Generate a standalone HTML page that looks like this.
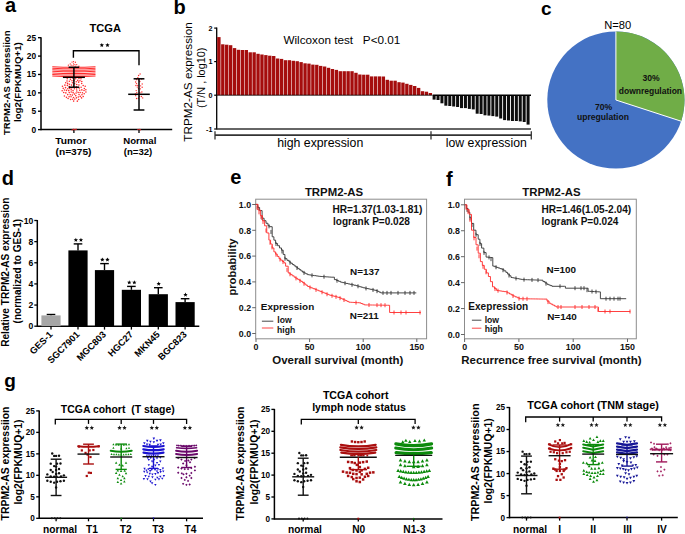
<!DOCTYPE html>
<html><head><meta charset="utf-8"><style>
html,body{margin:0;padding:0;background:#fff;}
body{width:685px;height:534px;overflow:hidden;}
svg{display:block;font-family:"Liberation Sans", sans-serif;}
</style></head><body>
<svg width="685" height="534" viewBox="0 0 685 534">
<rect width="685" height="534" fill="#fff"/>
<text x="5" y="12.4" font-size="20" font-weight="bold" text-anchor="start" fill="#000">a</text>
<text x="173.6" y="14.4" font-size="20" font-weight="bold" text-anchor="start" fill="#000">b</text>
<text x="541" y="15.3" font-size="19" font-weight="bold" text-anchor="start" fill="#000">c</text>
<text x="1.8" y="185" font-size="20" font-weight="bold" text-anchor="start" fill="#000">d</text>
<text x="230.3" y="183.6" font-size="20" font-weight="bold" text-anchor="start" fill="#000">e</text>
<text x="446" y="186.4" font-size="20" font-weight="bold" text-anchor="start" fill="#000">f</text>
<text x="4.2" y="386.8" font-size="19" font-weight="bold" text-anchor="start" fill="#000">g</text>
<line x1="41" y1="37.2" x2="41" y2="130.35" stroke="#000" stroke-width="1.5"/>
<line x1="38" y1="129.6" x2="41" y2="129.6" stroke="#000" stroke-width="1.35"/>
<text x="36.1" y="132.62" font-size="8.4" font-weight="bold" text-anchor="end" fill="#000">0</text>
<line x1="38" y1="111.22" x2="41" y2="111.22" stroke="#000" stroke-width="1.35"/>
<text x="36.1" y="114.24" font-size="8.4" font-weight="bold" text-anchor="end" fill="#000">5</text>
<line x1="38" y1="92.84" x2="41" y2="92.84" stroke="#000" stroke-width="1.35"/>
<text x="36.1" y="95.86" font-size="8.4" font-weight="bold" text-anchor="end" fill="#000">10</text>
<line x1="38" y1="74.46" x2="41" y2="74.46" stroke="#000" stroke-width="1.35"/>
<text x="36.1" y="77.48" font-size="8.4" font-weight="bold" text-anchor="end" fill="#000">15</text>
<line x1="38" y1="56.08" x2="41" y2="56.08" stroke="#000" stroke-width="1.35"/>
<text x="36.1" y="59.1" font-size="8.4" font-weight="bold" text-anchor="end" fill="#000">20</text>
<line x1="38" y1="37.7" x2="41" y2="37.7" stroke="#000" stroke-width="1.35"/>
<text x="36.1" y="40.72" font-size="8.4" font-weight="bold" text-anchor="end" fill="#000">25</text>
<line x1="41" y1="129.6" x2="172.2" y2="129.6" stroke="#000" stroke-width="1.5"/>
<line x1="73.9" y1="129.6" x2="73.9" y2="133" stroke="#000" stroke-width="1.3"/>
<line x1="139" y1="129.6" x2="139" y2="133" stroke="#000" stroke-width="1.3"/>
<text x="105.3" y="32.4" font-size="11.1" font-weight="bold" text-anchor="middle" fill="#000">TCGA</text>
<circle cx="75.4" cy="62.23" r="0.65" fill="#ff2a2a"/>
<circle cx="71.18" cy="65.19" r="0.65" fill="#ff2a2a"/>
<circle cx="73.5" cy="63.93" r="0.65" fill="#ff2a2a"/>
<circle cx="76.71" cy="64.66" r="0.65" fill="#ff2a2a"/>
<circle cx="72.05" cy="62.04" r="0.65" fill="#ff2a2a"/>
<circle cx="73.09" cy="65.53" r="0.65" fill="#ff2a2a"/>
<circle cx="68.38" cy="65.18" r="0.65" fill="#ff2a2a"/>
<circle cx="78.91" cy="66.26" r="0.65" fill="#ff2a2a"/>
<circle cx="70.23" cy="63.9" r="0.65" fill="#ff2a2a"/>
<circle cx="75.19" cy="66.22" r="0.65" fill="#ff2a2a"/>
<circle cx="73.53" cy="61.71" r="0.65" fill="#ff2a2a"/>
<circle cx="74.9" cy="64.55" r="0.65" fill="#ff2a2a"/>
<path d="M52.3 66.7Q73.9 67.7 95.5 66.7" fill="none" stroke="#ff2a2a" stroke-width="1.05"/>
<path d="M52.3 68.25Q73.9 69.25 95.5 68.25" fill="none" stroke="#ff2a2a" stroke-width="1.05"/>
<path d="M52.3 69.8Q73.9 70.8 95.5 69.8" fill="none" stroke="#ff2a2a" stroke-width="1.05"/>
<path d="M52.3 71.35Q73.9 72.35 95.5 71.35" fill="none" stroke="#ff2a2a" stroke-width="1.05"/>
<path d="M52.3 72.9Q73.9 73.9 95.5 72.9" fill="none" stroke="#ff2a2a" stroke-width="1.05"/>
<path d="M52.3 74.45Q73.9 75.45 95.5 74.45" fill="none" stroke="#ff2a2a" stroke-width="1.05"/>
<path d="M52.3 76Q73.9 77 95.5 76" fill="none" stroke="#ff2a2a" stroke-width="1.05"/>
<circle cx="74.64" cy="83.67" r="0.78" fill="#ff2a2a"/>
<circle cx="76.39" cy="86.71" r="0.78" fill="#ff2a2a"/>
<circle cx="63.73" cy="92.59" r="0.78" fill="#ff2a2a"/>
<circle cx="78.99" cy="78.5" r="0.78" fill="#ff2a2a"/>
<circle cx="69.41" cy="84.17" r="0.78" fill="#ff2a2a"/>
<circle cx="73.66" cy="101.1" r="0.78" fill="#ff2a2a"/>
<circle cx="73.51" cy="97.44" r="0.78" fill="#ff2a2a"/>
<circle cx="65.83" cy="92.9" r="0.78" fill="#ff2a2a"/>
<circle cx="82.44" cy="92.8" r="0.78" fill="#ff2a2a"/>
<circle cx="79.69" cy="90.23" r="0.78" fill="#ff2a2a"/>
<circle cx="75.75" cy="95.64" r="0.78" fill="#ff2a2a"/>
<circle cx="64.89" cy="85.13" r="0.78" fill="#ff2a2a"/>
<circle cx="81.96" cy="94.73" r="0.78" fill="#ff2a2a"/>
<circle cx="81.12" cy="87.28" r="0.78" fill="#ff2a2a"/>
<circle cx="84.35" cy="88.43" r="0.78" fill="#ff2a2a"/>
<circle cx="68.09" cy="98.41" r="0.78" fill="#ff2a2a"/>
<circle cx="69.37" cy="81.33" r="0.78" fill="#ff2a2a"/>
<circle cx="69.25" cy="92.61" r="0.78" fill="#ff2a2a"/>
<circle cx="71.16" cy="89.87" r="0.78" fill="#ff2a2a"/>
<circle cx="81.57" cy="97.9" r="0.78" fill="#ff2a2a"/>
<circle cx="74.8" cy="99.01" r="0.78" fill="#ff2a2a"/>
<circle cx="67.72" cy="94.62" r="0.78" fill="#ff2a2a"/>
<circle cx="65.52" cy="87.64" r="0.78" fill="#ff2a2a"/>
<circle cx="78.9" cy="84.96" r="0.78" fill="#ff2a2a"/>
<circle cx="70.3" cy="94.72" r="0.78" fill="#ff2a2a"/>
<circle cx="85.86" cy="89.82" r="0.78" fill="#ff2a2a"/>
<circle cx="72.39" cy="82.74" r="0.78" fill="#ff2a2a"/>
<circle cx="83.17" cy="85.42" r="0.78" fill="#ff2a2a"/>
<circle cx="74.38" cy="88.79" r="0.78" fill="#ff2a2a"/>
<circle cx="76.1" cy="93.01" r="0.78" fill="#ff2a2a"/>
<circle cx="76.78" cy="91.06" r="0.78" fill="#ff2a2a"/>
<circle cx="79.19" cy="88.12" r="0.78" fill="#ff2a2a"/>
<circle cx="62.17" cy="90.81" r="0.78" fill="#ff2a2a"/>
<circle cx="75.65" cy="78.66" r="0.78" fill="#ff2a2a"/>
<circle cx="73.11" cy="92.63" r="0.78" fill="#ff2a2a"/>
<circle cx="79.03" cy="94.46" r="0.78" fill="#ff2a2a"/>
<circle cx="67.24" cy="78.71" r="0.78" fill="#ff2a2a"/>
<circle cx="84.21" cy="93.75" r="0.78" fill="#ff2a2a"/>
<circle cx="69.4" cy="86.57" r="0.78" fill="#ff2a2a"/>
<circle cx="71.55" cy="85.11" r="0.78" fill="#ff2a2a"/>
<circle cx="64.42" cy="95.96" r="0.78" fill="#ff2a2a"/>
<circle cx="69.09" cy="96.69" r="0.78" fill="#ff2a2a"/>
<circle cx="67.59" cy="83.38" r="0.78" fill="#ff2a2a"/>
<circle cx="66.48" cy="90.38" r="0.78" fill="#ff2a2a"/>
<circle cx="71.07" cy="96.74" r="0.78" fill="#ff2a2a"/>
<circle cx="71.73" cy="87.85" r="0.78" fill="#ff2a2a"/>
<circle cx="70.61" cy="99.53" r="0.78" fill="#ff2a2a"/>
<circle cx="78.68" cy="99.45" r="0.78" fill="#ff2a2a"/>
<circle cx="78.64" cy="82.14" r="0.78" fill="#ff2a2a"/>
<circle cx="70.39" cy="79.35" r="0.78" fill="#ff2a2a"/>
<circle cx="67.03" cy="81.07" r="0.78" fill="#ff2a2a"/>
<circle cx="73.93" cy="80.18" r="0.78" fill="#ff2a2a"/>
<circle cx="67.78" cy="88.8" r="0.78" fill="#ff2a2a"/>
<circle cx="81.78" cy="81.5" r="0.78" fill="#ff2a2a"/>
<circle cx="76.72" cy="84.52" r="0.78" fill="#ff2a2a"/>
<circle cx="67.39" cy="85.39" r="0.78" fill="#ff2a2a"/>
<circle cx="78.32" cy="96.96" r="0.78" fill="#ff2a2a"/>
<circle cx="80.97" cy="78.81" r="0.78" fill="#ff2a2a"/>
<circle cx="76.23" cy="81.71" r="0.78" fill="#ff2a2a"/>
<circle cx="81.69" cy="83.49" r="0.78" fill="#ff2a2a"/>
<circle cx="73.04" cy="90.6" r="0.78" fill="#ff2a2a"/>
<circle cx="73.55" cy="86.16" r="0.78" fill="#ff2a2a"/>
<circle cx="72.29" cy="95.11" r="0.78" fill="#ff2a2a"/>
<circle cx="77.32" cy="101.14" r="0.78" fill="#ff2a2a"/>
<circle cx="81.84" cy="89.9" r="0.78" fill="#ff2a2a"/>
<circle cx="83.21" cy="96.46" r="0.78" fill="#ff2a2a"/>
<circle cx="84.01" cy="90.59" r="0.78" fill="#ff2a2a"/>
<circle cx="62.46" cy="86.28" r="0.78" fill="#ff2a2a"/>
<circle cx="68.73" cy="90.6" r="0.78" fill="#ff2a2a"/>
<circle cx="72.61" cy="99.21" r="0.78" fill="#ff2a2a"/>
<circle cx="66.43" cy="97.36" r="0.78" fill="#ff2a2a"/>
<circle cx="63.24" cy="88.37" r="0.78" fill="#ff2a2a"/>
<circle cx="85.2" cy="86.16" r="0.78" fill="#ff2a2a"/>
<circle cx="80.17" cy="92.46" r="0.78" fill="#ff2a2a"/>
<circle cx="72.99" cy="78.23" r="0.78" fill="#ff2a2a"/>
<circle cx="77.73" cy="80.39" r="0.78" fill="#ff2a2a"/>
<circle cx="79.96" cy="80.7" r="0.78" fill="#ff2a2a"/>
<circle cx="76.62" cy="89.05" r="0.78" fill="#ff2a2a"/>
<circle cx="85.9" cy="91.96" r="0.78" fill="#ff2a2a"/>
<circle cx="71.97" cy="80.75" r="0.78" fill="#ff2a2a"/>
<circle cx="71.24" cy="92.06" r="0.78" fill="#ff2a2a"/>
<circle cx="69.71" cy="88.52" r="0.78" fill="#ff2a2a"/>
<circle cx="74.39" cy="94.11" r="0.78" fill="#ff2a2a"/>
<circle cx="76.43" cy="97.85" r="0.78" fill="#ff2a2a"/>
<circle cx="80.24" cy="96.38" r="0.78" fill="#ff2a2a"/>
<circle cx="64.45" cy="89.93" r="0.78" fill="#ff2a2a"/>
<circle cx="65.7" cy="82.75" r="0.78" fill="#ff2a2a"/>
<circle cx="78.18" cy="92.53" r="0.78" fill="#ff2a2a"/>
<circle cx="136.49" cy="79.65" r="0.7" fill="#ff2a2a"/>
<circle cx="136.54" cy="83.62" r="0.7" fill="#ff2a2a"/>
<circle cx="138.59" cy="75.45" r="0.7" fill="#ff2a2a"/>
<circle cx="141.4" cy="96.57" r="0.7" fill="#ff2a2a"/>
<circle cx="136.78" cy="92.78" r="0.7" fill="#ff2a2a"/>
<circle cx="137.25" cy="87.11" r="0.7" fill="#ff2a2a"/>
<circle cx="141.66" cy="79.12" r="0.7" fill="#ff2a2a"/>
<circle cx="141.45" cy="94.36" r="0.7" fill="#ff2a2a"/>
<circle cx="139.85" cy="81.48" r="0.7" fill="#ff2a2a"/>
<circle cx="141.84" cy="91.95" r="0.7" fill="#ff2a2a"/>
<circle cx="135.69" cy="95.63" r="0.7" fill="#ff2a2a"/>
<circle cx="140.37" cy="88.83" r="0.7" fill="#ff2a2a"/>
<circle cx="135.92" cy="85.54" r="0.7" fill="#ff2a2a"/>
<circle cx="139.58" cy="96.34" r="0.7" fill="#ff2a2a"/>
<circle cx="138.45" cy="88.65" r="0.7" fill="#ff2a2a"/>
<circle cx="137.86" cy="77.8" r="0.7" fill="#ff2a2a"/>
<circle cx="135.35" cy="93.95" r="0.7" fill="#ff2a2a"/>
<circle cx="137.82" cy="85.49" r="0.7" fill="#ff2a2a"/>
<circle cx="136.56" cy="98.53" r="0.7" fill="#ff2a2a"/>
<circle cx="139.92" cy="92.78" r="0.7" fill="#ff2a2a"/>
<circle cx="142.19" cy="83.98" r="0.7" fill="#ff2a2a"/>
<circle cx="135.66" cy="82.02" r="0.7" fill="#ff2a2a"/>
<circle cx="138.39" cy="98.15" r="0.7" fill="#ff2a2a"/>
<circle cx="136.2" cy="90.59" r="0.7" fill="#ff2a2a"/>
<circle cx="138.43" cy="79.8" r="0.7" fill="#ff2a2a"/>
<circle cx="138.99" cy="94.41" r="0.7" fill="#ff2a2a"/>
<circle cx="142.69" cy="97.88" r="0.7" fill="#ff2a2a"/>
<circle cx="140.08" cy="74.06" r="0.7" fill="#ff2a2a"/>
<circle cx="142.17" cy="87.24" r="0.7" fill="#ff2a2a"/>
<circle cx="140.63" cy="85.87" r="0.7" fill="#ff2a2a"/>
<circle cx="74.96" cy="129.7" r="0.7" fill="#ff2a2a"/>
<circle cx="73.75" cy="129.22" r="0.7" fill="#ff2a2a"/>
<circle cx="72.2" cy="129.92" r="0.7" fill="#ff2a2a"/>
<circle cx="76.09" cy="129.29" r="0.7" fill="#ff2a2a"/>
<circle cx="140.42" cy="129.83" r="0.7" fill="#ff2a2a"/>
<circle cx="137.95" cy="129.59" r="0.7" fill="#ff2a2a"/>
<circle cx="139.24" cy="129.35" r="0.7" fill="#ff2a2a"/>
<line x1="73.9" y1="67.3" x2="73.9" y2="87.2" stroke="#000" stroke-width="1.5"/>
<line x1="68.6" y1="67.3" x2="79.2" y2="67.3" stroke="#000" stroke-width="1.5"/>
<line x1="68.6" y1="87.2" x2="79.2" y2="87.2" stroke="#000" stroke-width="1.5"/>
<line x1="62.9" y1="77.3" x2="84.9" y2="77.3" stroke="#000" stroke-width="1.5"/>
<line x1="139" y1="78.8" x2="139" y2="110" stroke="#000" stroke-width="1.5"/>
<line x1="133.6" y1="78.8" x2="144.4" y2="78.8" stroke="#000" stroke-width="1.5"/>
<line x1="133.6" y1="110" x2="144.4" y2="110" stroke="#000" stroke-width="1.5"/>
<line x1="128.2" y1="94.3" x2="149.8" y2="94.3" stroke="#000" stroke-width="1.5"/>
<path d="M73.4 57.8V50.8H139V65.3" fill="none" stroke="#000" stroke-width="1.4"/>
<polygon points="101.8,42.9 102.41,44.36 103.99,44.49 102.78,45.52 103.15,47.06 101.8,46.23 100.45,47.06 100.82,45.52 99.61,44.49 101.19,44.36" fill="#000"/>
<polygon points="107.5,42.9 108.11,44.36 109.69,44.49 108.48,45.52 108.85,47.06 107.5,46.23 106.15,47.06 106.52,45.52 105.31,44.49 106.89,44.36" fill="#000"/>
<text x="70.8" y="143.8" font-size="9.4" font-weight="bold" text-anchor="middle" fill="#000" textLength="31.2" lengthAdjust="spacingAndGlyphs">Tumor</text>
<text x="73.5" y="154.6" font-size="9" font-weight="bold" text-anchor="middle" fill="#000" textLength="36" lengthAdjust="spacingAndGlyphs">(n=375)</text>
<text x="139.8" y="144.1" font-size="9.6" font-weight="bold" text-anchor="middle" fill="#000">Normal</text>
<text x="138" y="154.9" font-size="9.6" font-weight="bold" text-anchor="middle" fill="#000">(n=32)</text>
<text x="10.4" y="82.8" font-size="9.55" font-weight="bold" text-anchor="middle" fill="#000" transform="rotate(-90 10.4 82.8)">TRPM2-AS expressiion</text>
<text x="21.5" y="82.1" font-size="9.76" font-weight="bold" text-anchor="middle" fill="#000" transform="rotate(-90 21.5 82.1)">log2(FPKMUQ+1)</text>
<line x1="216.7" y1="27.5" x2="216.7" y2="129.5" stroke="#000" stroke-width="1.3"/>
<line x1="214.2" y1="28.1" x2="216.7" y2="28.1" stroke="#000" stroke-width="1.2"/>
<text x="212.4" y="30.7" font-size="7.2" font-weight="bold" text-anchor="end" fill="#000">2</text>
<line x1="214.2" y1="61.6" x2="216.7" y2="61.6" stroke="#000" stroke-width="1.2"/>
<text x="212.4" y="64.2" font-size="7.2" font-weight="bold" text-anchor="end" fill="#000">1</text>
<line x1="214.2" y1="95.2" x2="216.7" y2="95.2" stroke="#000" stroke-width="1.2"/>
<text x="212.4" y="97.8" font-size="7.2" font-weight="bold" text-anchor="end" fill="#000">0</text>
<line x1="214.2" y1="129" x2="216.7" y2="129" stroke="#000" stroke-width="1.2"/>
<text x="212.4" y="131.6" font-size="7.2" font-weight="bold" text-anchor="end" fill="#000">-1</text>
<rect x="217.2" y="37.1" width="3.37" height="58.1" fill="#a50d0d"/>
<rect x="221.12" y="44.3" width="3.37" height="50.9" fill="#a50d0d"/>
<rect x="225.03" y="44.7" width="3.37" height="50.5" fill="#a50d0d"/>
<rect x="228.95" y="45.2" width="3.37" height="50" fill="#a50d0d"/>
<rect x="232.86" y="48.1" width="3.37" height="47.1" fill="#a50d0d"/>
<rect x="236.78" y="49.8" width="3.37" height="45.4" fill="#a50d0d"/>
<rect x="240.7" y="50" width="3.37" height="45.2" fill="#a50d0d"/>
<rect x="244.61" y="50" width="3.37" height="45.2" fill="#a50d0d"/>
<rect x="248.53" y="52.3" width="3.37" height="42.9" fill="#a50d0d"/>
<rect x="252.45" y="52.3" width="3.37" height="42.9" fill="#a50d0d"/>
<rect x="256.36" y="53.8" width="3.37" height="41.4" fill="#a50d0d"/>
<rect x="260.28" y="54.5" width="3.37" height="40.7" fill="#a50d0d"/>
<rect x="264.19" y="55.1" width="3.37" height="40.1" fill="#a50d0d"/>
<rect x="268.11" y="55.7" width="3.37" height="39.5" fill="#a50d0d"/>
<rect x="272.03" y="56" width="3.37" height="39.2" fill="#a50d0d"/>
<rect x="275.94" y="58.5" width="3.37" height="36.7" fill="#a50d0d"/>
<rect x="279.86" y="58.9" width="3.37" height="36.3" fill="#a50d0d"/>
<rect x="283.78" y="60.2" width="3.37" height="35" fill="#a50d0d"/>
<rect x="287.69" y="60.2" width="3.37" height="35" fill="#a50d0d"/>
<rect x="291.61" y="60.8" width="3.37" height="34.4" fill="#a50d0d"/>
<rect x="295.52" y="61.2" width="3.37" height="34" fill="#a50d0d"/>
<rect x="299.44" y="62.1" width="3.37" height="33.1" fill="#a50d0d"/>
<rect x="303.36" y="63.3" width="3.37" height="31.9" fill="#a50d0d"/>
<rect x="307.27" y="63.6" width="3.37" height="31.6" fill="#a50d0d"/>
<rect x="311.19" y="64.6" width="3.37" height="30.6" fill="#a50d0d"/>
<rect x="315.11" y="64.8" width="3.37" height="30.4" fill="#a50d0d"/>
<rect x="319.02" y="65.9" width="3.37" height="29.3" fill="#a50d0d"/>
<rect x="322.94" y="66.5" width="3.37" height="28.7" fill="#a50d0d"/>
<rect x="326.86" y="67.8" width="3.37" height="27.4" fill="#a50d0d"/>
<rect x="330.77" y="69" width="3.37" height="26.2" fill="#a50d0d"/>
<rect x="334.69" y="69.9" width="3.37" height="25.3" fill="#a50d0d"/>
<rect x="338.6" y="71.2" width="3.37" height="24" fill="#a50d0d"/>
<rect x="342.52" y="71.2" width="3.37" height="24" fill="#a50d0d"/>
<rect x="346.44" y="71.2" width="3.37" height="24" fill="#a50d0d"/>
<rect x="350.35" y="71.2" width="3.37" height="24" fill="#a50d0d"/>
<rect x="354.27" y="72.8" width="3.37" height="22.4" fill="#a50d0d"/>
<rect x="358.19" y="74.5" width="3.37" height="20.7" fill="#a50d0d"/>
<rect x="362.1" y="74.7" width="3.37" height="20.5" fill="#a50d0d"/>
<rect x="366.02" y="74.7" width="3.37" height="20.5" fill="#a50d0d"/>
<rect x="369.93" y="76.4" width="3.37" height="18.8" fill="#a50d0d"/>
<rect x="373.85" y="76.4" width="3.37" height="18.8" fill="#a50d0d"/>
<rect x="377.77" y="76.4" width="3.37" height="18.8" fill="#a50d0d"/>
<rect x="381.68" y="76.5" width="3.37" height="18.7" fill="#a50d0d"/>
<rect x="385.6" y="79.8" width="3.37" height="15.4" fill="#a50d0d"/>
<rect x="389.51" y="80.7" width="3.37" height="14.5" fill="#a50d0d"/>
<rect x="393.43" y="80.7" width="3.37" height="14.5" fill="#a50d0d"/>
<rect x="397.35" y="82.2" width="3.37" height="13" fill="#a50d0d"/>
<rect x="401.26" y="82.6" width="3.37" height="12.6" fill="#a50d0d"/>
<rect x="405.18" y="83.8" width="3.37" height="11.4" fill="#a50d0d"/>
<rect x="409.1" y="84.9" width="3.37" height="10.3" fill="#a50d0d"/>
<rect x="413.01" y="86" width="3.37" height="9.2" fill="#a50d0d"/>
<rect x="416.93" y="87.9" width="3.37" height="7.3" fill="#a50d0d"/>
<rect x="420.85" y="91.2" width="3.37" height="4" fill="#a50d0d"/>
<rect x="424.76" y="91.7" width="3.37" height="3.5" fill="#a50d0d"/>
<rect x="428.68" y="93" width="3.37" height="2.2" fill="#a50d0d"/>
<rect x="432.59" y="95.2" width="3.02" height="4.4" fill="#0d0d0d"/>
<rect x="436.51" y="95.2" width="3.02" height="4.8" fill="#0d0d0d"/>
<rect x="440.43" y="95.2" width="3.02" height="8.1" fill="#0d0d0d"/>
<rect x="444.34" y="95.2" width="3.02" height="10.5" fill="#0d0d0d"/>
<rect x="448.26" y="95.2" width="3.02" height="10.8" fill="#0d0d0d"/>
<rect x="452.18" y="95.2" width="3.02" height="11.3" fill="#0d0d0d"/>
<rect x="456.09" y="95.2" width="3.02" height="11.8" fill="#0d0d0d"/>
<rect x="460.01" y="95.2" width="3.02" height="12.9" fill="#0d0d0d"/>
<rect x="463.92" y="95.2" width="3.02" height="12.9" fill="#0d0d0d"/>
<rect x="467.84" y="95.2" width="3.02" height="13.7" fill="#0d0d0d"/>
<rect x="471.76" y="95.2" width="3.02" height="14.2" fill="#0d0d0d"/>
<rect x="475.67" y="95.2" width="3.02" height="18.5" fill="#0d0d0d"/>
<rect x="479.59" y="95.2" width="3.02" height="18.8" fill="#0d0d0d"/>
<rect x="483.5" y="95.2" width="3.02" height="20.1" fill="#0d0d0d"/>
<rect x="487.42" y="95.2" width="3.02" height="20.4" fill="#0d0d0d"/>
<rect x="491.34" y="95.2" width="3.02" height="20.9" fill="#0d0d0d"/>
<rect x="495.25" y="95.2" width="3.02" height="21.4" fill="#0d0d0d"/>
<rect x="499.17" y="95.2" width="3.02" height="23.3" fill="#0d0d0d"/>
<rect x="503.09" y="95.2" width="3.02" height="24.9" fill="#0d0d0d"/>
<rect x="507" y="95.2" width="3.02" height="25.3" fill="#0d0d0d"/>
<rect x="510.92" y="95.2" width="3.02" height="25.8" fill="#0d0d0d"/>
<rect x="514.84" y="95.2" width="3.02" height="25.8" fill="#0d0d0d"/>
<rect x="518.75" y="95.2" width="3.02" height="26.2" fill="#0d0d0d"/>
<rect x="522.67" y="95.2" width="3.02" height="26.8" fill="#0d0d0d"/>
<rect x="526.58" y="95.2" width="3.02" height="29.4" fill="#0d0d0d"/>
<line x1="216.7" y1="95.2" x2="431.9" y2="95.2" stroke="#000" stroke-width="0.8"/>
<line x1="432.59" y1="95.2" x2="531" y2="95.2" stroke="#000" stroke-width="1.5"/>
<line x1="216.7" y1="129" x2="531" y2="129" stroke="#333" stroke-width="1.6"/>
<line x1="215" y1="135.1" x2="531.3" y2="135.1" stroke="#333" stroke-width="1.6"/>
<line x1="215" y1="131.2" x2="215" y2="139.6" stroke="#333" stroke-width="1.3"/>
<line x1="431" y1="131.2" x2="431" y2="139.6" stroke="#333" stroke-width="1.3"/>
<line x1="531.3" y1="131.2" x2="531.3" y2="139.6" stroke="#333" stroke-width="1.3"/>
<text x="320.2" y="147.2" font-size="12.3" font-weight="normal" text-anchor="middle" fill="#000">high expression</text>
<text x="486.3" y="147.2" font-size="12.25" font-weight="normal" text-anchor="middle" fill="#000">low expression</text>
<text x="283.4" y="43.8" font-size="11.72" font-weight="normal" text-anchor="start" fill="#000">Wilcoxon test &#160; P&lt;0.01</text>
<text x="191.8" y="82" font-size="11.75" font-weight="normal" text-anchor="middle" fill="#000" transform="rotate(-90 191.8 82)">TRPM2-AS expression</text>
<text x="205" y="77.8" font-size="10.9" font-weight="normal" text-anchor="middle" fill="#000" transform="rotate(-90 205 77.8)">(T/N , log10)</text>
<circle cx="615.9" cy="100" r="68.6" fill="#4472c4"/>
<path d="M615.9 100L615.9 31.4A68.6 68.6 0 0 1 681.14 121.2Z" fill="#70ad47"/>
<path d="M615.9 31.4L615.9 100L681.14 121.2" fill="none" stroke="#fff" stroke-width="1"/>
<text x="617.8" y="28.6" font-size="11.16" font-weight="normal" text-anchor="middle" fill="#000">N=80</text>
<text x="651" y="81.4" font-size="8.6" font-weight="bold" text-anchor="middle" fill="#111">30%</text>
<text x="650.4" y="93.6" font-size="8.5" font-weight="bold" text-anchor="middle" fill="#111">downregulation</text>
<text x="603.6" y="109.9" font-size="8.6" font-weight="bold" text-anchor="middle" fill="#111">70%</text>
<text x="603" y="120.2" font-size="8.6" font-weight="bold" text-anchor="middle" fill="#111">upregulation</text>
<line x1="37.3" y1="220" x2="37.3" y2="326.9" stroke="#000" stroke-width="1.5"/>
<line x1="34.3" y1="326.2" x2="37.3" y2="326.2" stroke="#000" stroke-width="1.3"/>
<text x="33.4" y="329.3" font-size="8.6" font-weight="bold" text-anchor="end" fill="#000">0</text>
<line x1="34.3" y1="305.06" x2="37.3" y2="305.06" stroke="#000" stroke-width="1.3"/>
<text x="33.4" y="308.16" font-size="8.6" font-weight="bold" text-anchor="end" fill="#000">2</text>
<line x1="34.3" y1="283.92" x2="37.3" y2="283.92" stroke="#000" stroke-width="1.3"/>
<text x="33.4" y="287.02" font-size="8.6" font-weight="bold" text-anchor="end" fill="#000">4</text>
<line x1="34.3" y1="262.78" x2="37.3" y2="262.78" stroke="#000" stroke-width="1.3"/>
<text x="33.4" y="265.88" font-size="8.6" font-weight="bold" text-anchor="end" fill="#000">6</text>
<line x1="34.3" y1="241.64" x2="37.3" y2="241.64" stroke="#000" stroke-width="1.3"/>
<text x="33.4" y="244.74" font-size="8.6" font-weight="bold" text-anchor="end" fill="#000">8</text>
<line x1="34.3" y1="220.5" x2="37.3" y2="220.5" stroke="#000" stroke-width="1.3"/>
<text x="33.4" y="223.6" font-size="8.6" font-weight="bold" text-anchor="end" fill="#000">10</text>
<line x1="37.3" y1="326.2" x2="199.3" y2="326.2" stroke="#000" stroke-width="1.5"/>
<line x1="51" y1="315.4" x2="51" y2="314.5" stroke="#000" stroke-width="1.4"/>
<line x1="46.7" y1="314.5" x2="55.3" y2="314.5" stroke="#000" stroke-width="1.4"/>
<rect x="41.4" y="315.4" width="19.2" height="10.8" fill="#a6a6a6"/>
<line x1="51" y1="326.2" x2="51" y2="329.6" stroke="#000" stroke-width="1.3"/>
<text x="53.2" y="335.2" font-size="9.3" font-weight="bold" text-anchor="end" fill="#000" transform="rotate(-45 53.2 335.2)">GES-1</text>
<line x1="78" y1="250.4" x2="78" y2="243.9" stroke="#000" stroke-width="1.4"/>
<line x1="73.7" y1="243.9" x2="82.3" y2="243.9" stroke="#000" stroke-width="1.4"/>
<rect x="68.4" y="250.4" width="19.2" height="75.8" fill="#000"/>
<line x1="78" y1="326.2" x2="78" y2="329.6" stroke="#000" stroke-width="1.3"/>
<polygon points="75.85,237.7 76.46,239.16 78.04,239.29 76.83,240.32 77.2,241.86 75.85,241.03 74.5,241.86 74.87,240.32 73.66,239.29 75.24,239.16" fill="#000"/>
<polygon points="80.95,237.7 81.56,239.16 83.14,239.29 81.93,240.32 82.3,241.86 80.95,241.03 79.6,241.86 79.97,240.32 78.76,239.29 80.34,239.16" fill="#000"/>
<text x="80.2" y="335.2" font-size="9.3" font-weight="bold" text-anchor="end" fill="#000" transform="rotate(-45 80.2 335.2)">SGC7901</text>
<line x1="104.5" y1="270.1" x2="104.5" y2="263.6" stroke="#000" stroke-width="1.4"/>
<line x1="100.2" y1="263.6" x2="108.8" y2="263.6" stroke="#000" stroke-width="1.4"/>
<rect x="94.9" y="270.1" width="19.2" height="56.1" fill="#000"/>
<line x1="104.5" y1="326.2" x2="104.5" y2="329.6" stroke="#000" stroke-width="1.3"/>
<polygon points="102.35,257.4 102.96,258.86 104.54,258.99 103.33,260.02 103.7,261.56 102.35,260.74 101,261.56 101.37,260.02 100.16,258.99 101.74,258.86" fill="#000"/>
<polygon points="107.45,257.4 108.06,258.86 109.64,258.99 108.43,260.02 108.8,261.56 107.45,260.74 106.1,261.56 106.47,260.02 105.26,258.99 106.84,258.86" fill="#000"/>
<text x="106.7" y="335.2" font-size="9.3" font-weight="bold" text-anchor="end" fill="#000" transform="rotate(-45 106.7 335.2)">MGC803</text>
<line x1="131.4" y1="289.8" x2="131.4" y2="286.4" stroke="#000" stroke-width="1.4"/>
<line x1="127.1" y1="286.4" x2="135.7" y2="286.4" stroke="#000" stroke-width="1.4"/>
<rect x="121.8" y="289.8" width="19.2" height="36.4" fill="#000"/>
<line x1="131.4" y1="326.2" x2="131.4" y2="329.6" stroke="#000" stroke-width="1.3"/>
<polygon points="129.25,280.2 129.86,281.66 131.44,281.79 130.23,282.82 130.6,284.36 129.25,283.54 127.9,284.36 128.27,282.82 127.06,281.79 128.64,281.66" fill="#000"/>
<polygon points="134.35,280.2 134.96,281.66 136.54,281.79 135.33,282.82 135.7,284.36 134.35,283.54 133,284.36 133.37,282.82 132.16,281.79 133.74,281.66" fill="#000"/>
<text x="133.6" y="335.2" font-size="9.3" font-weight="bold" text-anchor="end" fill="#000" transform="rotate(-45 133.6 335.2)">HGC27</text>
<line x1="158.3" y1="294.2" x2="158.3" y2="287.7" stroke="#000" stroke-width="1.4"/>
<line x1="154" y1="287.7" x2="162.6" y2="287.7" stroke="#000" stroke-width="1.4"/>
<rect x="148.7" y="294.2" width="19.2" height="32" fill="#000"/>
<line x1="158.3" y1="326.2" x2="158.3" y2="329.6" stroke="#000" stroke-width="1.3"/>
<polygon points="158.7,281.5 159.31,282.96 160.89,283.09 159.68,284.12 160.05,285.66 158.7,284.84 157.35,285.66 157.72,284.12 156.51,283.09 158.09,282.96" fill="#000"/>
<text x="160.5" y="335.2" font-size="9.3" font-weight="bold" text-anchor="end" fill="#000" transform="rotate(-45 160.5 335.2)">MKN45</text>
<line x1="185.1" y1="302.1" x2="185.1" y2="298.7" stroke="#000" stroke-width="1.4"/>
<line x1="180.8" y1="298.7" x2="189.4" y2="298.7" stroke="#000" stroke-width="1.4"/>
<rect x="175.5" y="302.1" width="19.2" height="24.1" fill="#000"/>
<line x1="185.1" y1="326.2" x2="185.1" y2="329.6" stroke="#000" stroke-width="1.3"/>
<polygon points="185.5,292.5 186.11,293.96 187.69,294.09 186.48,295.12 186.85,296.66 185.5,295.84 184.15,296.66 184.52,295.12 183.31,294.09 184.89,293.96" fill="#000"/>
<text x="187.3" y="335.2" font-size="9.3" font-weight="bold" text-anchor="end" fill="#000" transform="rotate(-45 187.3 335.2)">BGC823</text>
<text x="8.6" y="272.2" font-size="10.1" font-weight="bold" text-anchor="middle" fill="#000" transform="rotate(-90 8.6 272.2)">Relative TRPM2-AS expression</text>
<text x="21.2" y="271.2" font-size="10" font-weight="bold" text-anchor="middle" fill="#000" transform="rotate(-90 21.2 271.2)">(normalized to GES-1)</text>
<rect x="255.7" y="199.2" width="170.9" height="139.6" fill="none" stroke="#8c8c8c" stroke-width="1"/>
<line x1="252.2" y1="204.5" x2="255.7" y2="204.5" stroke="#555" stroke-width="0.9"/>
<text x="251.1" y="207.7" font-size="8.8" font-weight="bold" text-anchor="end" fill="#111">1.0</text>
<line x1="252.2" y1="230.3" x2="255.7" y2="230.3" stroke="#555" stroke-width="0.9"/>
<text x="251.1" y="233.5" font-size="8.8" font-weight="bold" text-anchor="end" fill="#111">0.8</text>
<line x1="252.2" y1="256.1" x2="255.7" y2="256.1" stroke="#555" stroke-width="0.9"/>
<text x="251.1" y="259.3" font-size="8.8" font-weight="bold" text-anchor="end" fill="#111">0.6</text>
<line x1="252.2" y1="281.9" x2="255.7" y2="281.9" stroke="#555" stroke-width="0.9"/>
<text x="251.1" y="285.1" font-size="8.8" font-weight="bold" text-anchor="end" fill="#111">0.4</text>
<line x1="252.2" y1="307.7" x2="255.7" y2="307.7" stroke="#555" stroke-width="0.9"/>
<text x="251.1" y="310.9" font-size="8.8" font-weight="bold" text-anchor="end" fill="#111">0.2</text>
<line x1="252.2" y1="333.5" x2="255.7" y2="333.5" stroke="#555" stroke-width="0.9"/>
<text x="251.1" y="336.7" font-size="8.8" font-weight="bold" text-anchor="end" fill="#111">0.0</text>
<line x1="256" y1="338.8" x2="256" y2="342" stroke="#555" stroke-width="0.9"/>
<text x="256" y="350.4" font-size="8.9" font-weight="bold" text-anchor="middle" fill="#111">0</text>
<line x1="309.6" y1="338.8" x2="309.6" y2="342" stroke="#555" stroke-width="0.9"/>
<text x="309.6" y="350.4" font-size="8.9" font-weight="bold" text-anchor="middle" fill="#111">50</text>
<line x1="363.2" y1="338.8" x2="363.2" y2="342" stroke="#555" stroke-width="0.9"/>
<text x="363.2" y="350.4" font-size="8.9" font-weight="bold" text-anchor="middle" fill="#111">100</text>
<line x1="416.8" y1="338.8" x2="416.8" y2="342" stroke="#555" stroke-width="0.9"/>
<text x="416.8" y="350.4" font-size="8.9" font-weight="bold" text-anchor="middle" fill="#111">150</text>
<text x="334" y="195.6" font-size="11.4" font-weight="bold" text-anchor="middle" fill="#111">TRPM2-AS</text>
<text x="332.5" y="212.8" font-size="10.15" font-weight="bold" text-anchor="start" fill="#111">HR=1.37(1.03-1.81)</text>
<text x="333" y="225" font-size="10.07" font-weight="bold" text-anchor="start" fill="#111">logrank P=0.028</text>
<text x="350" y="275.2" font-size="9.92" font-weight="bold" text-anchor="start" fill="#111">N=137</text>
<text x="349.8" y="319.2" font-size="9.92" font-weight="bold" text-anchor="start" fill="#111">N=211</text>
<text x="260.8" y="309.5" font-size="9.92" font-weight="bold" text-anchor="start" fill="#111">Expression</text>
<line x1="261.9" y1="321.2" x2="273.3" y2="321.2" stroke="#333" stroke-width="0.9"/>
<line x1="261.9" y1="328" x2="273.3" y2="328" stroke="#ff3030" stroke-width="0.9"/>
<text x="277.3" y="323" font-size="8.6" font-weight="bold" text-anchor="start" fill="#111">low</text>
<text x="277" y="333.4" font-size="8.6" font-weight="bold" text-anchor="start" fill="#111">high</text>
<text x="337.8" y="364" font-size="11.46" font-weight="bold" text-anchor="middle" fill="#111">Overall survival (month)</text>
<text x="235.6" y="267" font-size="11.2" font-weight="bold" text-anchor="middle" fill="#111" transform="rotate(-90 235.6 267)">probability</text>
<path d="M255.7 204.4H257.65V207.5H259.6V210.6H262.1V218.2H264.07V220.73H266.03V223.27H268V225.8H269.7V226.7H272.2V236.8H273.9V240.15H275.6V243.5H277.57V245.73H279.53V247.97H281.5V250.2H283.2V254.45H284.9V258.7H287V260.35H289.1V262H290.78V263.27H292.45V264.55H294.12V265.83H295.8V267.1H297.5V268.38H299.2V269.65H300.9V270.93H302.6V272.2H304.27V273.03H305.93V273.87H307.6V274.7H309.29V274.94H310.97V275.19H312.66V275.43H314.34V275.67H316.03V275.91H317.71V276.16H319.4V276.4H321.09V276.51H322.77V276.63H324.46V276.74H326.14V276.86H327.83V276.97H329.51V277.09H331.2V277.2H334.4V279.6H336.47V280.47H338.53V281.33H340.6V282.2H342.44V282.62H344.28V283.04H346.12V283.46H347.96V283.88H349.8V284.3H351.87V284.77H353.93V285.23H356V285.7H357.8V286.23H359.6V286.75H361.4V287.27H363.2V287.8H364.97V288.19H366.74V288.57H368.51V288.96H370.29V289.34H372.06V289.73H373.83V290.11H375.6V290.5H377.3V291.3H379V292.1H380.7V292.9H416.3" fill="none" stroke="#333" stroke-width="0.9"/>
<path d="M258 206.06V210.06M262 215.9V219.9M269 224.33V228.33M271 229.95V233.95M276 241.95V245.95M282 249.45V253.45M285 256.78V260.78M290 260.69V264.69M297 266V270M304 270.9V274.9M312 273.33V277.33M324 274.71V278.71M337 278.69V282.69M345 281.2V285.2M352 282.8V286.8M358 284.28V288.28M366 286.41V290.41M373 287.93V291.93M377 289.16V293.16M383 290.9V294.9M387 290.9V294.9M391 290.9V294.9M398 290.9V294.9M405 290.9V294.9M410 290.9V294.9M414 290.9V294.9" stroke="#333" stroke-width="0.9"/>
<path d="M255.7 204.4H258.05V210.05H260.4V215.7H262.5V220.75H264.6V225.8H266.75V232.95H268.9V240.1H270.57V244.03H272.23V247.97H273.9V251.9H275.6V254.17H277.3V256.43H279V258.7H280.67V260.1H282.33V261.5H284V262.9H285.6V266.2H288.2V273H290.17V274.4H292.13V275.8H294.1V277.2H295.8V278.25H297.5V279.3H299.2V280.35H300.9V281.4H302.57V282.67H304.25V283.95H305.93V285.23H307.6V286.5H309.43V287.23H311.27V287.97H313.1V288.7H314.93V289.43H316.77V290.17H318.6V290.9H320.32V291.58H322.03V292.27H323.75V292.95H325.47V293.63H327.18V294.32H328.9V295H330.5V295.42H332.1V295.83H333.7V296.25H335.3V296.67H336.9V297.08H338.5V297.5H340.22V298.28H341.93V299.07H343.65V299.85H345.37V300.63H347.08V301.42H348.8V302.2H350.52V302.3H352.23V302.4H353.95V302.5H355.67V302.6H357.38V302.7H359.1V302.8H360.83V303.5H362.57V304.2H364.3V304.9H365.95V304.93H367.59V304.95H369.24V304.98H370.89V305.01H372.53V305.03H374.18V305.06H375.83V305.09H377.47V305.11H379.12V305.14H380.77V305.17H382.41V305.19H384.06V305.22H385.71V305.25H387.35V305.27H389V305.3H389.6V312.5H420.9" fill="none" stroke="#ff2a2a" stroke-width="0.9"/>
<path d="M257 205.53V209.53M259 210.33V214.33M261 215.14V219.14M263 219.95V223.95M266 228.46V232.46M270 240.7V244.7M272 245.42V249.42M276 252.7V256.7M280 257.54V261.54M283 260.06V264.06M287 267.86V271.86M290 272.28V276.28M296 276.37V280.37M300 278.84V282.84M304 281.76V285.76M310 285.46V289.46M316 287.86V291.86M322 290.25V294.25M327 292.24V296.24M332 293.81V297.81M336 294.85V298.85M340 296.18V300.18M344 298.01V302.01M356 300.62V304.62M369 302.98V306.98M377 303.11V307.11M381 303.17V307.17M385 303.24V307.24M394 310.5V314.5M401 310.5V314.5M406 310.5V314.5M420 310.5V314.5" stroke="#ff2a2a" stroke-width="0.9"/>
<rect x="464.5" y="199.2" width="171.8" height="139.6" fill="none" stroke="#8c8c8c" stroke-width="1"/>
<line x1="461" y1="204.8" x2="464.5" y2="204.8" stroke="#555" stroke-width="0.9"/>
<text x="459.9" y="208" font-size="8.8" font-weight="bold" text-anchor="end" fill="#111">1.0</text>
<line x1="461" y1="230.74" x2="464.5" y2="230.74" stroke="#555" stroke-width="0.9"/>
<text x="459.9" y="233.94" font-size="8.8" font-weight="bold" text-anchor="end" fill="#111">0.8</text>
<line x1="461" y1="256.68" x2="464.5" y2="256.68" stroke="#555" stroke-width="0.9"/>
<text x="459.9" y="259.88" font-size="8.8" font-weight="bold" text-anchor="end" fill="#111">0.6</text>
<line x1="461" y1="282.62" x2="464.5" y2="282.62" stroke="#555" stroke-width="0.9"/>
<text x="459.9" y="285.82" font-size="8.8" font-weight="bold" text-anchor="end" fill="#111">0.4</text>
<line x1="461" y1="308.56" x2="464.5" y2="308.56" stroke="#555" stroke-width="0.9"/>
<text x="459.9" y="311.76" font-size="8.8" font-weight="bold" text-anchor="end" fill="#111">0.2</text>
<line x1="461" y1="334.5" x2="464.5" y2="334.5" stroke="#555" stroke-width="0.9"/>
<text x="459.9" y="337.7" font-size="8.8" font-weight="bold" text-anchor="end" fill="#111">0.0</text>
<line x1="464.6" y1="338.8" x2="464.6" y2="342" stroke="#555" stroke-width="0.9"/>
<text x="464.6" y="350.4" font-size="8.9" font-weight="bold" text-anchor="middle" fill="#111">0</text>
<line x1="518.9" y1="338.8" x2="518.9" y2="342" stroke="#555" stroke-width="0.9"/>
<text x="518.9" y="350.4" font-size="8.9" font-weight="bold" text-anchor="middle" fill="#111">50</text>
<line x1="573.2" y1="338.8" x2="573.2" y2="342" stroke="#555" stroke-width="0.9"/>
<text x="573.2" y="350.4" font-size="8.9" font-weight="bold" text-anchor="middle" fill="#111">100</text>
<line x1="627.5" y1="338.8" x2="627.5" y2="342" stroke="#555" stroke-width="0.9"/>
<text x="627.5" y="350.4" font-size="8.9" font-weight="bold" text-anchor="middle" fill="#111">150</text>
<text x="551.4" y="196" font-size="11.4" font-weight="bold" text-anchor="middle" fill="#111">TRPM2-AS</text>
<text x="541.4" y="212.5" font-size="10.15" font-weight="bold" text-anchor="start" fill="#111">HR=1.46(1.05-2.04)</text>
<text x="541.5" y="224.5" font-size="10.07" font-weight="bold" text-anchor="start" fill="#111">logrank P=0.024</text>
<text x="546.6" y="273.4" font-size="9.92" font-weight="bold" text-anchor="start" fill="#111">N=100</text>
<text x="547.2" y="319.8" font-size="9.92" font-weight="bold" text-anchor="start" fill="#111">N=140</text>
<text x="468.3" y="310.3" font-size="10.09" font-weight="bold" text-anchor="start" fill="#111">Exepression</text>
<line x1="471.9" y1="320.2" x2="481.4" y2="320.2" stroke="#333" stroke-width="0.9"/>
<line x1="471.9" y1="328.2" x2="481.4" y2="328.2" stroke="#ff3030" stroke-width="0.9"/>
<text x="484.7" y="322.8" font-size="8.6" font-weight="bold" text-anchor="start" fill="#111">low</text>
<text x="484.7" y="332.2" font-size="8.6" font-weight="bold" text-anchor="start" fill="#111">high</text>
<text x="551.4" y="364.4" font-size="11.5" font-weight="bold" text-anchor="middle" fill="#111">Recurrence free survival (month)</text>
<path d="M464.7 204.8H466.4V208.5H468.1V212.2H469.8V217.8H471.5V223.4H473.7V230.2H475.95V234.7H478.2V239.2H479.9V243.65H481.6V248.1H483.85V252.6H486.1V257.1H488.35V257.35H490.6V257.6H492.8V266.1H494.6V266.74H496.4V267.38H498.2V268.02H500V268.66H501.8V269.3H503.85V270.85H505.9V272.4H507.6V274.1H509.3V275.8H511V277.5H512.61V277.8H514.23V278.1H515.84V278.4H517.46V278.7H519.07V279H520.69V279.3H522.3V279.6H523.99V279.65H525.68V279.71H527.37V279.76H529.06V279.82H530.75V279.87H532.45V279.93H534.14V279.98H535.83V280.04H537.52V280.09H539.21V280.15H540.9V280.2H542.93V281.57H544.97V282.93H547V284.3H548.67V284.97H550.33V285.63H552V286.3H564.4H565.4V288.2H585H588.1V291.3H589.71V291.39H591.33V291.47H592.94V291.56H594.56V291.64H596.17V291.73H597.79V291.81H599.4V291.9H600.4V298.7H626.2" fill="none" stroke="#333" stroke-width="0.9"/>
<path d="M467 207.81V211.81M470 216.46V220.46M472 222.95V226.95M476 232.8V236.8M480 241.91V245.91M484 250.9V254.9M489 255.42V259.42M491 257.15V261.15M496 265.24V269.24M503 268.21V272.21M509 273.5V277.5M516 276.43V280.43M524 277.65V281.65M532 277.91V281.91M538 278.11V282.11M546 281.63V285.63M560 284.3V288.3M575 286.2V290.2M581 286.2V290.2M584 286.2V290.2M587 288.2V292.2M592 289.51V293.51M596 289.72V293.72M606 296.7V300.7M610 296.7V300.7M614 296.7V300.7M618 296.7V300.7M620 296.7V300.7" stroke="#333" stroke-width="0.9"/>
<path d="M464.7 204.8H466.95V209.6H469.2V214.4H471.5V230.2H473.75V237.5H476V244.8H478.2V253.2H480.4V261.6H482.35V265.45H484.3V269.3H486.35V272.9H488.4V276.5H490.45V281.65H492.5V286.8H494.55V288.65H496.6V290.5H498.46V290.78H500.32V291.06H502.18V291.34H504.04V291.62H505.9V291.9H507.7V292.92H509.5V293.95H511.3V294.98H513.1V296H515.17V296.9H517.23V297.8H519.3V298.7H520.91V298.72H522.51V298.75H524.12V298.77H525.72V298.8H527.33V298.82H528.94V298.85H530.54V298.88H532.15V298.9H533.76V298.93H535.36V298.95H536.97V298.98H538.58V299H540.18V299.03H541.79V299.05H543.39V299.08H545V299.1H547.05V301.15H549.1V303.2H550.88V304.15H552.65V305.1H554.43V306.05H556.2V307H597.3H598.4V311.5H630.3" fill="none" stroke="#ff2a2a" stroke-width="0.9"/>
<path d="M466 205.57V209.57M468 209.84V213.84M470 217.9V221.9M474 236.31V240.31M477 246.62V250.62M479 254.25V258.25M483 264.73V268.73M486 270.29V274.29M495 287.06V291.06M498 288.71V292.71M507 290.53V294.53M513 293.94V297.94M519 296.57V300.57M523 296.76V300.76M527 296.82V300.82M548 300.1V304.1M558 305V309M561 305V309M575 305V309M582 305V309M589 305V309M595 305V309M598 307.86V311.86M605 309.5V313.5M610 309.5V313.5M630 309.5V313.5" stroke="#ff2a2a" stroke-width="0.9"/>
<line x1="39.2" y1="410.4" x2="39.2" y2="519.05" stroke="#000" stroke-width="1.5"/>
<line x1="36.2" y1="518.3" x2="39.2" y2="518.3" stroke="#000" stroke-width="1.35"/>
<text x="34.8" y="521.25" font-size="8.2" font-weight="bold" text-anchor="end" fill="#000">0</text>
<line x1="36.2" y1="496.82" x2="39.2" y2="496.82" stroke="#000" stroke-width="1.35"/>
<text x="34.8" y="499.77" font-size="8.2" font-weight="bold" text-anchor="end" fill="#000">5</text>
<line x1="36.2" y1="475.34" x2="39.2" y2="475.34" stroke="#000" stroke-width="1.35"/>
<text x="34.8" y="478.29" font-size="8.2" font-weight="bold" text-anchor="end" fill="#000">10</text>
<line x1="36.2" y1="453.86" x2="39.2" y2="453.86" stroke="#000" stroke-width="1.35"/>
<text x="34.8" y="456.81" font-size="8.2" font-weight="bold" text-anchor="end" fill="#000">15</text>
<line x1="36.2" y1="432.38" x2="39.2" y2="432.38" stroke="#000" stroke-width="1.35"/>
<text x="34.8" y="435.33" font-size="8.2" font-weight="bold" text-anchor="end" fill="#000">20</text>
<line x1="36.2" y1="410.9" x2="39.2" y2="410.9" stroke="#000" stroke-width="1.35"/>
<text x="34.8" y="413.85" font-size="8.2" font-weight="bold" text-anchor="end" fill="#000">25</text>
<line x1="39.2" y1="518.3" x2="203" y2="518.3" stroke="#000" stroke-width="1.5"/>
<text x="9" y="463.5" font-size="10.4" font-weight="bold" text-anchor="middle" fill="#000" transform="rotate(-90 9 463.5)">TRPM2-AS expressiion</text>
<text x="21.6" y="462" font-size="10.4" font-weight="bold" text-anchor="middle" fill="#000" transform="rotate(-90 21.6 462)">log2(FPKMUQ+1)</text>
<text x="117.8" y="412.6" font-size="10.44" font-weight="bold" text-anchor="middle" fill="#000">TCGA cohort &#160;(T stage)</text>
<path d="M55.3 424.6V419.3H186.6V423.9" fill="none" stroke="#000" stroke-width="1.3"/>
<line x1="88.5" y1="419.3" x2="88.5" y2="423.9" stroke="#000" stroke-width="1.3"/>
<line x1="121.2" y1="419.3" x2="121.2" y2="423.9" stroke="#000" stroke-width="1.3"/>
<line x1="153.5" y1="419.3" x2="153.5" y2="423.9" stroke="#000" stroke-width="1.3"/>
<polygon points="86.8,425.55 87.42,427.04 89.03,427.17 87.81,428.23 88.18,429.8 86.8,428.96 85.42,429.8 85.79,428.23 84.57,427.17 86.18,427.04" fill="#1a1a1a"/>
<polygon points="91.8,425.55 92.42,427.04 94.03,427.17 92.81,428.23 93.18,429.8 91.8,428.96 90.42,429.8 90.79,428.23 89.57,427.17 91.18,427.04" fill="#1a1a1a"/>
<polygon points="119.5,425.55 120.12,427.04 121.73,427.17 120.51,428.23 120.88,429.8 119.5,428.96 118.12,429.8 118.49,428.23 117.27,427.17 118.88,427.04" fill="#1a1a1a"/>
<polygon points="124.5,425.55 125.12,427.04 126.73,427.17 125.51,428.23 125.88,429.8 124.5,428.96 123.12,429.8 123.49,428.23 122.27,427.17 123.88,427.04" fill="#1a1a1a"/>
<polygon points="151.8,425.55 152.42,427.04 154.03,427.17 152.81,428.23 153.18,429.8 151.8,428.96 150.42,429.8 150.79,428.23 149.57,427.17 151.18,427.04" fill="#1a1a1a"/>
<polygon points="156.8,425.55 157.42,427.04 159.03,427.17 157.81,428.23 158.18,429.8 156.8,428.96 155.42,429.8 155.79,428.23 154.57,427.17 156.18,427.04" fill="#1a1a1a"/>
<polygon points="184.9,425.55 185.52,427.04 187.13,427.17 185.91,428.23 186.28,429.8 184.9,428.96 183.52,429.8 183.89,428.23 182.67,427.17 184.28,427.04" fill="#1a1a1a"/>
<polygon points="189.9,425.55 190.52,427.04 192.13,427.17 190.91,428.23 191.28,429.8 189.9,428.96 188.52,429.8 188.89,428.23 187.67,427.17 189.28,427.04" fill="#1a1a1a"/>
<line x1="56.1" y1="518.3" x2="56.1" y2="521.3" stroke="#000" stroke-width="1.3"/>
<text x="60.1" y="532.6" font-size="10.2" font-weight="bold" text-anchor="middle" fill="#000">normal</text>
<line x1="88.5" y1="518.3" x2="88.5" y2="521.3" stroke="#000" stroke-width="1.3"/>
<text x="92" y="532.6" font-size="10.2" font-weight="bold" text-anchor="middle" fill="#000">T1</text>
<line x1="121.2" y1="518.3" x2="121.2" y2="521.3" stroke="#000" stroke-width="1.3"/>
<text x="125.8" y="532.6" font-size="10.2" font-weight="bold" text-anchor="middle" fill="#000">T2</text>
<line x1="153.5" y1="518.3" x2="153.5" y2="521.3" stroke="#000" stroke-width="1.3"/>
<text x="158.1" y="532.6" font-size="10.2" font-weight="bold" text-anchor="middle" fill="#000">T3</text>
<line x1="186.6" y1="518.3" x2="186.6" y2="521.3" stroke="#000" stroke-width="1.3"/>
<text x="190.4" y="532.6" font-size="10.2" font-weight="bold" text-anchor="middle" fill="#000">T4</text>
<circle cx="52.21" cy="453.44" r="1.2" fill="#111"/>
<circle cx="54.15" cy="455.88" r="1.2" fill="#111"/>
<circle cx="56.1" cy="455.88" r="1.2" fill="#111"/>
<circle cx="59.02" cy="455.68" r="1.2" fill="#111"/>
<circle cx="50.74" cy="463.67" r="1.2" fill="#111"/>
<circle cx="57.07" cy="463.67" r="1.2" fill="#111"/>
<circle cx="60.48" cy="463.47" r="1.2" fill="#111"/>
<circle cx="54.15" cy="466.1" r="1.2" fill="#111"/>
<circle cx="56.1" cy="466.59" r="1.2" fill="#111"/>
<circle cx="50.74" cy="470" r="1.2" fill="#111"/>
<circle cx="52.69" cy="471.94" r="1.2" fill="#111"/>
<circle cx="56.1" cy="470" r="1.2" fill="#111"/>
<circle cx="59.02" cy="469.02" r="1.2" fill="#111"/>
<circle cx="56.1" cy="473.89" r="1.2" fill="#111"/>
<circle cx="59.02" cy="473.21" r="1.2" fill="#111"/>
<circle cx="47.34" cy="474.38" r="1.2" fill="#111"/>
<circle cx="50.74" cy="476.33" r="1.2" fill="#111"/>
<circle cx="54.15" cy="476.81" r="1.2" fill="#111"/>
<circle cx="56.59" cy="476.81" r="1.2" fill="#111"/>
<circle cx="60.97" cy="476.33" r="1.2" fill="#111"/>
<circle cx="63.89" cy="475.35" r="1.2" fill="#111"/>
<circle cx="47.34" cy="480.71" r="1.2" fill="#111"/>
<circle cx="50.74" cy="481.68" r="1.2" fill="#111"/>
<circle cx="54.15" cy="482.66" r="1.2" fill="#111"/>
<circle cx="57.07" cy="481.68" r="1.2" fill="#111"/>
<circle cx="60.48" cy="481.19" r="1.2" fill="#111"/>
<circle cx="63.89" cy="480.71" r="1.2" fill="#111"/>
<circle cx="56.1" cy="487.52" r="1.2" fill="#111"/>
<circle cx="51.9" cy="518.3" r="1" fill="#111"/>
<circle cx="54.7" cy="518.3" r="1" fill="#111"/>
<circle cx="57.5" cy="518.3" r="1" fill="#111"/>
<circle cx="60.3" cy="518.3" r="1" fill="#111"/>
<line x1="56.1" y1="459.2" x2="56.1" y2="495.5" stroke="#111" stroke-width="1.4"/>
<line x1="50.7" y1="459.2" x2="61.5" y2="459.2" stroke="#111" stroke-width="1.4"/>
<line x1="50.7" y1="495.5" x2="61.5" y2="495.5" stroke="#111" stroke-width="1.4"/>
<line x1="45.1" y1="477.3" x2="67.1" y2="477.3" stroke="#111" stroke-width="1.4"/>
<path d="M78.1 446.2Q88.5 447.4 98.9 446.2" fill="none" stroke="#aa0f0f" stroke-width="1.9" stroke-linecap="round"/>
<rect x="80.73" y="449.33" width="2.2" height="2.2" fill="#aa0f0f"/>
<rect x="84.44" y="451.8" width="2.2" height="2.2" fill="#aa0f0f"/>
<rect x="88.56" y="449.33" width="2.2" height="2.2" fill="#aa0f0f"/>
<rect x="92.27" y="448.91" width="2.2" height="2.2" fill="#aa0f0f"/>
<rect x="89.39" y="455.92" width="2.2" height="2.2" fill="#aa0f0f"/>
<rect x="86.5" y="453.45" width="2.2" height="2.2" fill="#aa0f0f"/>
<rect x="87.74" y="471.59" width="2.2" height="2.2" fill="#aa0f0f"/>
<rect x="89.8" y="471.83" width="2.2" height="2.2" fill="#aa0f0f"/>
<rect x="85.68" y="474.88" width="2.2" height="2.2" fill="#aa0f0f"/>
<rect x="77.85" y="445.45" width="2.2" height="2.2" fill="#aa0f0f"/>
<rect x="97.63" y="445.21" width="2.2" height="2.2" fill="#aa0f0f"/>
<line x1="88.5" y1="444.2" x2="88.5" y2="464" stroke="#aa0f0f" stroke-width="1.4"/>
<line x1="83.1" y1="444.2" x2="93.9" y2="444.2" stroke="#aa0f0f" stroke-width="1.4"/>
<line x1="83.1" y1="464" x2="93.9" y2="464" stroke="#aa0f0f" stroke-width="1.4"/>
<line x1="77.5" y1="454.1" x2="99.5" y2="454.1" stroke="#111" stroke-width="1.4"/>
<path d="M113.4 443.24L114.5 445.22L112.3 445.22Z" fill="#0b8a0b"/>
<path d="M116 443.5L117.1 445.48L114.9 445.48Z" fill="#0b8a0b"/>
<path d="M118.6 443.65L119.7 445.63L117.5 445.63Z" fill="#0b8a0b"/>
<path d="M123.8 443.65L124.9 445.63L122.7 445.63Z" fill="#0b8a0b"/>
<path d="M126.4 443.5L127.5 445.48L125.3 445.48Z" fill="#0b8a0b"/>
<path d="M129 443.24L130.1 445.22L127.9 445.22Z" fill="#0b8a0b"/>
<path d="M113.4 446.83L114.5 448.81L112.3 448.81Z" fill="#0b8a0b"/>
<path d="M121.2 447.5L122.3 449.48L120.1 449.48Z" fill="#0b8a0b"/>
<path d="M126.4 447.2L127.5 449.18L125.3 449.18Z" fill="#0b8a0b"/>
<path d="M129 446.83L130.1 448.81L127.9 448.81Z" fill="#0b8a0b"/>
<path d="M110.7 450.8Q121.2 452.8 131.7 450.8" fill="none" stroke="#0b8a0b" stroke-width="2" stroke-linecap="round"/>
<path d="M111.6 452.95L112.7 454.93L110.5 454.93Z" fill="#0b8a0b"/>
<path d="M114 453.19L115.1 455.17L112.9 455.17Z" fill="#0b8a0b"/>
<path d="M116.4 453.36L117.5 455.34L115.3 455.34Z" fill="#0b8a0b"/>
<path d="M118.8 453.47L119.9 455.45L117.7 455.45Z" fill="#0b8a0b"/>
<path d="M121.2 453.5L122.3 455.48L120.1 455.48Z" fill="#0b8a0b"/>
<path d="M123.6 453.47L124.7 455.45L122.5 455.45Z" fill="#0b8a0b"/>
<path d="M126 453.36L127.1 455.34L124.9 455.34Z" fill="#0b8a0b"/>
<path d="M128.4 453.19L129.5 455.17L127.3 455.17Z" fill="#0b8a0b"/>
<path d="M130.8 452.95L131.9 454.93L129.7 454.93Z" fill="#0b8a0b"/>
<path d="M116.16 461.62L117.41 463.87L114.91 463.87Z" fill="#0b8a0b"/>
<path d="M126 461.62L127.25 463.87L124.75 463.87Z" fill="#0b8a0b"/>
<path d="M119.44 463.59L120.69 465.84L118.19 465.84Z" fill="#0b8a0b"/>
<path d="M122.72 464.24L123.97 466.49L121.47 466.49Z" fill="#0b8a0b"/>
<path d="M117.8 469.16L119.05 471.41L116.55 471.41Z" fill="#0b8a0b"/>
<path d="M121.08 469.82L122.33 472.07L119.83 472.07Z" fill="#0b8a0b"/>
<path d="M124.69 469.49L125.94 471.74L123.44 471.74Z" fill="#0b8a0b"/>
<path d="M116.16 471.78L117.41 474.03L114.91 474.03Z" fill="#0b8a0b"/>
<path d="M126 472.11L127.25 474.36L124.75 474.36Z" fill="#0b8a0b"/>
<path d="M119.44 473.42L120.69 475.67L118.19 475.67Z" fill="#0b8a0b"/>
<path d="M122.72 475.06L123.97 477.31L121.47 477.31Z" fill="#0b8a0b"/>
<path d="M117.8 477.03L119.05 479.28L116.55 479.28Z" fill="#0b8a0b"/>
<path d="M124.36 477.03L125.61 479.28L123.11 479.28Z" fill="#0b8a0b"/>
<path d="M121.08 478.67L122.33 480.92L119.83 480.92Z" fill="#0b8a0b"/>
<path d="M117.8 480.64L119.05 482.89L116.55 482.89Z" fill="#0b8a0b"/>
<path d="M124.36 480.31L125.61 482.56L123.11 482.56Z" fill="#0b8a0b"/>
<path d="M121.08 482.27L122.33 484.52L119.83 484.52Z" fill="#0b8a0b"/>
<path d="M121.2 517.3L122.2 519.1L120.2 519.1Z" fill="#0b8a0b"/>
<line x1="121.2" y1="444.1" x2="121.2" y2="469.4" stroke="#0b8a0b" stroke-width="1.4"/>
<line x1="115.6" y1="444.1" x2="126.8" y2="444.1" stroke="#0b8a0b" stroke-width="1.4"/>
<line x1="115.6" y1="469.4" x2="126.8" y2="469.4" stroke="#0b8a0b" stroke-width="1.4"/>
<line x1="110.2" y1="457" x2="132.2" y2="457" stroke="#111" stroke-width="1.4"/>
<path d="M153.85 439.93L155.15 437.59L152.55 437.59Z" fill="#1a12d0"/>
<path d="M147.27 442.13L148.57 439.79L145.97 439.79Z" fill="#1a12d0"/>
<path d="M150.44 443.1L151.74 440.76L149.14 440.76Z" fill="#1a12d0"/>
<path d="M153.85 443.59L155.15 441.25L152.55 441.25Z" fill="#1a12d0"/>
<path d="M157.02 442.13L158.32 439.79L155.72 439.79Z" fill="#1a12d0"/>
<path d="M160.44 441.64L161.74 439.3L159.14 439.3Z" fill="#1a12d0"/>
<path d="M144.34 444.57L145.64 442.23L143.04 442.23Z" fill="#1a12d0"/>
<path d="M147.02 445.79L148.32 443.45L145.72 443.45Z" fill="#1a12d0"/>
<path d="M149.71 446.03L151.01 443.69L148.41 443.69Z" fill="#1a12d0"/>
<path d="M158 446.03L159.3 443.69L156.7 443.69Z" fill="#1a12d0"/>
<path d="M160.68 445.79L161.98 443.45L159.38 443.45Z" fill="#1a12d0"/>
<path d="M163.37 444.57L164.67 442.23L162.07 442.23Z" fill="#1a12d0"/>
<path d="M143.3 446Q153.5 447.8 163.7 446" fill="none" stroke="#1a12d0" stroke-width="2.2" stroke-linecap="round"/>
<path d="M143.3 449.3Q153.5 451.1 163.7 449.3" fill="none" stroke="#1a12d0" stroke-width="2.2" stroke-linecap="round"/>
<path d="M143.5 452.6Q153.5 454.4 163.5 452.6" fill="none" stroke="#1a12d0" stroke-width="2.2" stroke-linecap="round"/>
<path d="M146.9 456.6L147.9 454.8L145.9 454.8Z" fill="#1a12d0"/>
<path d="M149.1 456.6L150.1 454.8L148.1 454.8Z" fill="#1a12d0"/>
<path d="M151.3 456.6L152.3 454.8L150.3 454.8Z" fill="#1a12d0"/>
<path d="M153.5 456.6L154.5 454.8L152.5 454.8Z" fill="#1a12d0"/>
<path d="M155.7 456.6L156.7 454.8L154.7 454.8Z" fill="#1a12d0"/>
<path d="M157.9 456.6L158.9 454.8L156.9 454.8Z" fill="#1a12d0"/>
<path d="M147.84 459.15L149.04 456.99L146.64 456.99Z" fill="#1a12d0"/>
<path d="M150.79 459.15L151.99 456.99L149.59 456.99Z" fill="#1a12d0"/>
<path d="M157.02 459.48L158.22 457.32L155.82 457.32Z" fill="#1a12d0"/>
<path d="M160.3 458.82L161.5 456.66L159.1 456.66Z" fill="#1a12d0"/>
<path d="M148.82 461.12L150.02 458.96L147.62 458.96Z" fill="#1a12d0"/>
<path d="M154.07 460.79L155.27 458.63L152.87 458.63Z" fill="#1a12d0"/>
<path d="M152.1 462.76L153.3 460.6L150.9 460.6Z" fill="#1a12d0"/>
<path d="M160.3 462.76L161.5 460.6L159.1 460.6Z" fill="#1a12d0"/>
<path d="M157.02 464.07L158.22 461.91L155.82 461.91Z" fill="#1a12d0"/>
<path d="M158.98 466.04L160.18 463.88L157.78 463.88Z" fill="#1a12d0"/>
<path d="M148.82 466.36L150.02 464.2L147.62 464.2Z" fill="#1a12d0"/>
<path d="M155.38 466.69L156.58 464.53L154.18 464.53Z" fill="#1a12d0"/>
<path d="M152.1 468L153.3 465.84L150.9 465.84Z" fill="#1a12d0"/>
<path d="M144.56 469.97L145.76 467.81L143.36 467.81Z" fill="#1a12d0"/>
<path d="M162.92 469.64L164.12 467.48L161.72 467.48Z" fill="#1a12d0"/>
<path d="M146.52 471.61L147.72 469.45L145.32 469.45Z" fill="#1a12d0"/>
<path d="M160.3 471.28L161.5 469.12L159.1 469.12Z" fill="#1a12d0"/>
<path d="M144.23 472.92L145.43 470.76L143.03 470.76Z" fill="#1a12d0"/>
<path d="M150.13 472.27L151.33 470.11L148.93 470.11Z" fill="#1a12d0"/>
<path d="M157.02 472.59L158.22 470.43L155.82 470.43Z" fill="#1a12d0"/>
<path d="M163.25 472.59L164.45 470.43L162.05 470.43Z" fill="#1a12d0"/>
<path d="M147.18 473.58L148.38 471.42L145.98 471.42Z" fill="#1a12d0"/>
<path d="M160.62 473.25L161.82 471.09L159.42 471.09Z" fill="#1a12d0"/>
<path d="M149.8 474.89L151 472.73L148.6 472.73Z" fill="#1a12d0"/>
<path d="M152.43 475.54L153.63 473.38L151.23 473.38Z" fill="#1a12d0"/>
<path d="M155.38 475.22L156.58 473.06L154.18 473.06Z" fill="#1a12d0"/>
<path d="M158 474.23L159.2 472.07L156.8 472.07Z" fill="#1a12d0"/>
<path d="M145.54 477.18L146.74 475.02L144.34 475.02Z" fill="#1a12d0"/>
<path d="M148.82 477.84L150.02 475.68L147.62 475.68Z" fill="#1a12d0"/>
<path d="M152.43 478.5L153.63 476.34L151.23 476.34Z" fill="#1a12d0"/>
<path d="M157.34 478.82L158.54 476.66L156.14 476.66Z" fill="#1a12d0"/>
<path d="M160.3 477.84L161.5 475.68L159.1 475.68Z" fill="#1a12d0"/>
<path d="M163.9 477.18L165.1 475.02L162.7 475.02Z" fill="#1a12d0"/>
<path d="M143.9 480.13L145.1 477.97L142.7 477.97Z" fill="#1a12d0"/>
<path d="M147.51 480.46L148.71 478.3L146.31 478.3Z" fill="#1a12d0"/>
<path d="M155.38 480.79L156.58 478.63L154.18 478.63Z" fill="#1a12d0"/>
<path d="M158.98 480.46L160.18 478.3L157.78 478.3Z" fill="#1a12d0"/>
<path d="M162.26 479.81L163.46 477.65L161.06 477.65Z" fill="#1a12d0"/>
<path d="M150.46 482.76L151.66 480.6L149.26 480.6Z" fill="#1a12d0"/>
<path d="M152.1 484.4L153.3 482.24L150.9 482.24Z" fill="#1a12d0"/>
<path d="M155.38 486.04L156.58 483.88L154.18 483.88Z" fill="#1a12d0"/>
<path d="M148.49 470.3L149.69 468.14L147.29 468.14Z" fill="#1a12d0"/>
<path d="M151.77 470.95L152.97 468.79L150.57 468.79Z" fill="#1a12d0"/>
<path d="M155.05 470.95L156.25 468.79L153.85 468.79Z" fill="#1a12d0"/>
<path d="M158 470.3L159.2 468.14L156.8 468.14Z" fill="#1a12d0"/>
<path d="M153.5 519.3L154.5 517.5L152.5 517.5Z" fill="#1a12d0"/>
<line x1="153.5" y1="446" x2="153.5" y2="468.4" stroke="#1a12d0" stroke-width="1.4"/>
<line x1="148.9" y1="446" x2="158.1" y2="446" stroke="#1a12d0" stroke-width="1.4"/>
<line x1="148.9" y1="468.4" x2="158.1" y2="468.4" stroke="#1a12d0" stroke-width="1.4"/>
<line x1="142.5" y1="456.7" x2="164.5" y2="456.7" stroke="#111" stroke-width="1.4"/>
<path d="M177 444.3L178.1 445.4L177 446.5L175.9 445.4Z" fill="#6a086a"/>
<path d="M178.6 444.45L179.7 445.55L178.6 446.65L177.5 445.55Z" fill="#6a086a"/>
<path d="M180.2 444.58L181.3 445.68L180.2 446.78L179.1 445.68Z" fill="#6a086a"/>
<path d="M181.8 444.67L182.9 445.77L181.8 446.87L180.7 445.77Z" fill="#6a086a"/>
<path d="M183.4 444.74L184.5 445.84L183.4 446.94L182.3 445.84Z" fill="#6a086a"/>
<path d="M185 444.79L186.1 445.89L185 446.99L183.9 445.89Z" fill="#6a086a"/>
<path d="M186.6 444.8L187.7 445.9L186.6 447L185.5 445.9Z" fill="#6a086a"/>
<path d="M188.2 444.79L189.3 445.89L188.2 446.99L187.1 445.89Z" fill="#6a086a"/>
<path d="M189.8 444.74L190.9 445.84L189.8 446.94L188.7 445.84Z" fill="#6a086a"/>
<path d="M191.4 444.67L192.5 445.77L191.4 446.87L190.3 445.77Z" fill="#6a086a"/>
<path d="M193 444.58L194.1 445.68L193 446.78L191.9 445.68Z" fill="#6a086a"/>
<path d="M194.6 444.45L195.7 445.55L194.6 446.65L193.5 445.55Z" fill="#6a086a"/>
<path d="M196.2 444.3L197.3 445.4L196.2 446.5L195.1 445.4Z" fill="#6a086a"/>
<path d="M176.6 447.8Q186.6 449.2 196.6 447.8" fill="none" stroke="#6a086a" stroke-width="1.6" stroke-linecap="round"/>
<path d="M176.1 450.8Q186.6 452.8 197.1 450.8" fill="none" stroke="#6a086a" stroke-width="2" stroke-linecap="round"/>
<path d="M176.1 454Q186.6 456 197.1 454" fill="none" stroke="#6a086a" stroke-width="2" stroke-linecap="round"/>
<path d="M178.21 456.75L179.41 457.95L178.21 459.15L177.01 457.95Z" fill="#6a086a"/>
<path d="M181.49 458.39L182.69 459.59L181.49 460.79L180.29 459.59Z" fill="#6a086a"/>
<path d="M185.1 459.7L186.3 460.9L185.1 462.1L183.9 460.9Z" fill="#6a086a"/>
<path d="M188.38 459.37L189.58 460.57L188.38 461.77L187.18 460.57Z" fill="#6a086a"/>
<path d="M191.33 458.39L192.53 459.59L191.33 460.79L190.13 459.59Z" fill="#6a086a"/>
<path d="M194.61 456.75L195.81 457.95L194.61 459.15L193.41 457.95Z" fill="#6a086a"/>
<path d="M190.02 461.01L191.22 462.21L190.02 463.41L188.82 462.21Z" fill="#6a086a"/>
<path d="M183.13 462.32L184.33 463.52L183.13 464.72L181.93 463.52Z" fill="#6a086a"/>
<path d="M186.41 463.96L187.61 465.16L186.41 466.36L185.21 465.16Z" fill="#6a086a"/>
<path d="M178.21 466.26L179.41 467.46L178.21 468.66L177.01 467.46Z" fill="#6a086a"/>
<path d="M181.49 467.24L182.69 468.44L181.49 469.64L180.29 468.44Z" fill="#6a086a"/>
<path d="M184.77 467.9L185.97 469.1L184.77 470.3L183.57 469.1Z" fill="#6a086a"/>
<path d="M188.05 467.9L189.25 469.1L188.05 470.3L186.85 469.1Z" fill="#6a086a"/>
<path d="M191.33 466.91L192.53 468.11L191.33 469.31L190.13 468.11Z" fill="#6a086a"/>
<path d="M194.93 465.6L196.13 466.8L194.93 468L193.73 466.8Z" fill="#6a086a"/>
<path d="M194.93 469.21L196.13 470.41L194.93 471.61L193.73 470.41Z" fill="#6a086a"/>
<path d="M178.21 471.5L179.41 472.7L178.21 473.9L177.01 472.7Z" fill="#6a086a"/>
<path d="M181.82 472.16L183.02 473.36L181.82 474.56L180.62 473.36Z" fill="#6a086a"/>
<path d="M183.46 473.14L184.66 474.34L183.46 475.54L182.26 474.34Z" fill="#6a086a"/>
<path d="M186.41 472.49L187.61 473.69L186.41 474.89L185.21 473.69Z" fill="#6a086a"/>
<path d="M191.33 471.83L192.53 473.03L191.33 474.23L190.13 473.03Z" fill="#6a086a"/>
<path d="M189.69 474.46L190.89 475.66L189.69 476.86L188.49 475.66Z" fill="#6a086a"/>
<path d="M181.49 476.75L182.69 477.95L181.49 479.15L180.29 477.95Z" fill="#6a086a"/>
<path d="M186.41 476.1L187.61 477.3L186.41 478.5L185.21 477.3Z" fill="#6a086a"/>
<path d="M191.33 476.75L192.53 477.95L191.33 479.15L190.13 477.95Z" fill="#6a086a"/>
<path d="M184.77 478.72L185.97 479.92L184.77 481.12L183.57 479.92Z" fill="#6a086a"/>
<path d="M188.05 479.7L189.25 480.9L188.05 482.1L186.85 480.9Z" fill="#6a086a"/>
<path d="M183.13 482.65L184.33 483.85L183.13 485.05L181.93 483.85Z" fill="#6a086a"/>
<path d="M186.41 483.64L187.61 484.84L186.41 486.04L185.21 484.84Z" fill="#6a086a"/>
<path d="M189.69 483.31L190.89 484.51L189.69 485.71L188.49 484.51Z" fill="#6a086a"/>
<line x1="186.6" y1="446.5" x2="186.6" y2="467.5" stroke="#6a086a" stroke-width="1.4"/>
<line x1="181.2" y1="446.5" x2="192" y2="446.5" stroke="#6a086a" stroke-width="1.4"/>
<line x1="181.2" y1="467.5" x2="192" y2="467.5" stroke="#6a086a" stroke-width="1.4"/>
<line x1="175.6" y1="457.5" x2="197.6" y2="457.5" stroke="#111" stroke-width="1.4"/>
<line x1="274.4" y1="408.9" x2="274.4" y2="519.65" stroke="#000" stroke-width="1.5"/>
<line x1="271.4" y1="518.9" x2="274.4" y2="518.9" stroke="#000" stroke-width="1.35"/>
<text x="270" y="521.85" font-size="8.2" font-weight="bold" text-anchor="end" fill="#000">0</text>
<line x1="271.4" y1="497" x2="274.4" y2="497" stroke="#000" stroke-width="1.35"/>
<text x="270" y="499.95" font-size="8.2" font-weight="bold" text-anchor="end" fill="#000">5</text>
<line x1="271.4" y1="475.1" x2="274.4" y2="475.1" stroke="#000" stroke-width="1.35"/>
<text x="270" y="478.05" font-size="8.2" font-weight="bold" text-anchor="end" fill="#000">10</text>
<line x1="271.4" y1="453.2" x2="274.4" y2="453.2" stroke="#000" stroke-width="1.35"/>
<text x="270" y="456.15" font-size="8.2" font-weight="bold" text-anchor="end" fill="#000">15</text>
<line x1="271.4" y1="431.3" x2="274.4" y2="431.3" stroke="#000" stroke-width="1.35"/>
<text x="270" y="434.25" font-size="8.2" font-weight="bold" text-anchor="end" fill="#000">20</text>
<line x1="271.4" y1="409.4" x2="274.4" y2="409.4" stroke="#000" stroke-width="1.35"/>
<text x="270" y="412.35" font-size="8.2" font-weight="bold" text-anchor="end" fill="#000">25</text>
<line x1="274.4" y1="518.9" x2="442.5" y2="518.9" stroke="#000" stroke-width="1.5"/>
<text x="243.9" y="463.5" font-size="10.4" font-weight="bold" text-anchor="middle" fill="#000" transform="rotate(-90 243.9 463.5)">TRPM2-AS expressiion</text>
<text x="257.6" y="462" font-size="10.4" font-weight="bold" text-anchor="middle" fill="#000" transform="rotate(-90 257.6 462)">log2(FPKMUQ+1)</text>
<text x="355.7" y="398.8" font-size="10.62" font-weight="bold" text-anchor="middle" fill="#000">TCGA cohort</text>
<text x="359" y="410.6" font-size="10.62" font-weight="bold" text-anchor="middle" fill="#000">lymph node status</text>
<path d="M301.3 424.6V419.3H415.1V423.9" fill="none" stroke="#000" stroke-width="1.3"/>
<line x1="358.3" y1="419.3" x2="358.3" y2="423.9" stroke="#000" stroke-width="1.3"/>
<polygon points="356.6,425.25 357.22,426.74 358.83,426.87 357.61,427.93 357.98,429.5 356.6,428.66 355.22,429.5 355.59,427.93 354.37,426.87 355.98,426.74" fill="#1a1a1a"/>
<polygon points="361.6,425.25 362.22,426.74 363.83,426.87 362.61,427.93 362.98,429.5 361.6,428.66 360.22,429.5 360.59,427.93 359.37,426.87 360.98,426.74" fill="#1a1a1a"/>
<polygon points="413.4,425.25 414.02,426.74 415.63,426.87 414.41,427.93 414.78,429.5 413.4,428.66 412.02,429.5 412.39,427.93 411.17,426.87 412.78,426.74" fill="#1a1a1a"/>
<polygon points="418.4,425.25 419.02,426.74 420.63,426.87 419.41,427.93 419.78,429.5 418.4,428.66 417.02,429.5 417.39,427.93 416.17,426.87 417.78,426.74" fill="#1a1a1a"/>
<line x1="303.2" y1="518.6" x2="303.2" y2="521.6" stroke="#000" stroke-width="1.3"/>
<text x="304.9" y="532.8" font-size="10.2" font-weight="bold" text-anchor="middle" fill="#000">normal</text>
<line x1="358.3" y1="518.6" x2="358.3" y2="521.6" stroke="#000" stroke-width="1.3"/>
<text x="358.7" y="532.8" font-size="10.2" font-weight="bold" text-anchor="middle" fill="#000">N0</text>
<line x1="413.7" y1="518.6" x2="413.7" y2="521.6" stroke="#000" stroke-width="1.3"/>
<text x="414.4" y="532.8" font-size="10.2" font-weight="bold" text-anchor="middle" fill="#000">N1-3</text>
<circle cx="299.31" cy="452.94" r="1.2" fill="#111"/>
<circle cx="301.25" cy="455.38" r="1.2" fill="#111"/>
<circle cx="303.2" cy="455.38" r="1.2" fill="#111"/>
<circle cx="306.12" cy="455.18" r="1.2" fill="#111"/>
<circle cx="297.84" cy="463.17" r="1.2" fill="#111"/>
<circle cx="304.17" cy="463.17" r="1.2" fill="#111"/>
<circle cx="307.58" cy="462.97" r="1.2" fill="#111"/>
<circle cx="301.25" cy="465.6" r="1.2" fill="#111"/>
<circle cx="303.2" cy="466.09" r="1.2" fill="#111"/>
<circle cx="297.84" cy="469.5" r="1.2" fill="#111"/>
<circle cx="299.79" cy="471.44" r="1.2" fill="#111"/>
<circle cx="303.2" cy="469.5" r="1.2" fill="#111"/>
<circle cx="306.12" cy="468.52" r="1.2" fill="#111"/>
<circle cx="303.2" cy="473.39" r="1.2" fill="#111"/>
<circle cx="306.12" cy="472.71" r="1.2" fill="#111"/>
<circle cx="294.44" cy="473.88" r="1.2" fill="#111"/>
<circle cx="297.84" cy="475.83" r="1.2" fill="#111"/>
<circle cx="301.25" cy="476.31" r="1.2" fill="#111"/>
<circle cx="303.69" cy="476.31" r="1.2" fill="#111"/>
<circle cx="308.07" cy="475.83" r="1.2" fill="#111"/>
<circle cx="310.99" cy="474.85" r="1.2" fill="#111"/>
<circle cx="294.44" cy="480.21" r="1.2" fill="#111"/>
<circle cx="297.84" cy="481.18" r="1.2" fill="#111"/>
<circle cx="301.25" cy="482.16" r="1.2" fill="#111"/>
<circle cx="304.17" cy="481.18" r="1.2" fill="#111"/>
<circle cx="307.58" cy="480.69" r="1.2" fill="#111"/>
<circle cx="310.99" cy="480.21" r="1.2" fill="#111"/>
<circle cx="303.2" cy="487.02" r="1.2" fill="#111"/>
<circle cx="299" cy="518.6" r="1" fill="#111"/>
<circle cx="301.8" cy="518.6" r="1" fill="#111"/>
<circle cx="304.6" cy="518.6" r="1" fill="#111"/>
<circle cx="307.4" cy="518.6" r="1" fill="#111"/>
<line x1="303.2" y1="458.2" x2="303.2" y2="495.2" stroke="#111" stroke-width="1.4"/>
<line x1="297.8" y1="458.2" x2="308.6" y2="458.2" stroke="#111" stroke-width="1.4"/>
<line x1="297.8" y1="495.2" x2="308.6" y2="495.2" stroke="#111" stroke-width="1.4"/>
<line x1="292.2" y1="476.8" x2="314.2" y2="476.8" stroke="#111" stroke-width="1.4"/>
<rect x="350.7" y="440.27" width="2.4" height="2.4" fill="#aa0f0f"/>
<rect x="353.9" y="440.82" width="2.4" height="2.4" fill="#aa0f0f"/>
<rect x="357.1" y="441" width="2.4" height="2.4" fill="#aa0f0f"/>
<rect x="360.3" y="440.82" width="2.4" height="2.4" fill="#aa0f0f"/>
<rect x="363.5" y="440.27" width="2.4" height="2.4" fill="#aa0f0f"/>
<path d="M340.9 444.8Q358.3 448 375.7 444.8" fill="none" stroke="#aa0f0f" stroke-width="2.2" stroke-linecap="round"/>
<path d="M340.3 447.4Q358.3 450.6 376.3 447.4" fill="none" stroke="#aa0f0f" stroke-width="2.2" stroke-linecap="round"/>
<path d="M340.3 450Q358.3 453.2 376.3 450" fill="none" stroke="#aa0f0f" stroke-width="2.2" stroke-linecap="round"/>
<path d="M341.3 452.7Q358.3 455.5 375.3 452.7" fill="none" stroke="#aa0f0f" stroke-width="2.2" stroke-linecap="round"/>
<rect x="350.2" y="454.6" width="1.8" height="1.8" fill="#aa0f0f"/>
<rect x="352" y="454.6" width="1.8" height="1.8" fill="#aa0f0f"/>
<rect x="353.8" y="454.6" width="1.8" height="1.8" fill="#aa0f0f"/>
<rect x="357.4" y="454.6" width="1.8" height="1.8" fill="#aa0f0f"/>
<rect x="359.2" y="454.6" width="1.8" height="1.8" fill="#aa0f0f"/>
<rect x="361" y="454.6" width="1.8" height="1.8" fill="#aa0f0f"/>
<rect x="362.8" y="454.6" width="1.8" height="1.8" fill="#aa0f0f"/>
<rect x="366.4" y="454.6" width="1.8" height="1.8" fill="#aa0f0f"/>
<rect x="346.89" y="460.68" width="2.5" height="2.5" fill="#aa0f0f"/>
<rect x="350.54" y="461.05" width="2.5" height="2.5" fill="#aa0f0f"/>
<rect x="353.46" y="461.78" width="2.5" height="2.5" fill="#aa0f0f"/>
<rect x="358.57" y="461.41" width="2.5" height="2.5" fill="#aa0f0f"/>
<rect x="361.85" y="460.9" width="2.5" height="2.5" fill="#aa0f0f"/>
<rect x="365.5" y="460.32" width="2.5" height="2.5" fill="#aa0f0f"/>
<rect x="355.65" y="463.6" width="2.5" height="2.5" fill="#aa0f0f"/>
<rect x="348.71" y="466.89" width="2.5" height="2.5" fill="#aa0f0f"/>
<rect x="358.57" y="465.79" width="2.5" height="2.5" fill="#aa0f0f"/>
<rect x="363.68" y="467.62" width="2.5" height="2.5" fill="#aa0f0f"/>
<rect x="366.96" y="466.52" width="2.5" height="2.5" fill="#aa0f0f"/>
<rect x="351.63" y="468.71" width="2.5" height="2.5" fill="#aa0f0f"/>
<rect x="355.28" y="469.22" width="2.5" height="2.5" fill="#aa0f0f"/>
<rect x="360.39" y="469.08" width="2.5" height="2.5" fill="#aa0f0f"/>
<rect x="341.78" y="470.39" width="2.5" height="2.5" fill="#aa0f0f"/>
<rect x="345.43" y="471.27" width="2.5" height="2.5" fill="#aa0f0f"/>
<rect x="348.71" y="471.49" width="2.5" height="2.5" fill="#aa0f0f"/>
<rect x="358.57" y="470.68" width="2.5" height="2.5" fill="#aa0f0f"/>
<rect x="368.79" y="471.41" width="2.5" height="2.5" fill="#aa0f0f"/>
<rect x="372.07" y="471.12" width="2.5" height="2.5" fill="#aa0f0f"/>
<rect x="352" y="472.58" width="2.5" height="2.5" fill="#aa0f0f"/>
<rect x="355.28" y="472.87" width="2.5" height="2.5" fill="#aa0f0f"/>
<rect x="360.39" y="473.09" width="2.5" height="2.5" fill="#aa0f0f"/>
<rect x="365.5" y="472.58" width="2.5" height="2.5" fill="#aa0f0f"/>
<rect x="346.89" y="474.7" width="2.5" height="2.5" fill="#aa0f0f"/>
<rect x="363.68" y="475.5" width="2.5" height="2.5" fill="#aa0f0f"/>
<rect x="366.96" y="474.7" width="2.5" height="2.5" fill="#aa0f0f"/>
<rect x="350.54" y="475.79" width="2.5" height="2.5" fill="#aa0f0f"/>
<rect x="352" y="477.84" width="2.5" height="2.5" fill="#aa0f0f"/>
<rect x="355.28" y="476.74" width="2.5" height="2.5" fill="#aa0f0f"/>
<rect x="358.57" y="476.38" width="2.5" height="2.5" fill="#aa0f0f"/>
<rect x="361.85" y="478.2" width="2.5" height="2.5" fill="#aa0f0f"/>
<rect x="355.28" y="480.03" width="2.5" height="2.5" fill="#aa0f0f"/>
<rect x="358.57" y="480.76" width="2.5" height="2.5" fill="#aa0f0f"/>
<line x1="349.5" y1="469.6" x2="367.1" y2="469.6" stroke="#aa0f0f" stroke-width="1.4"/>
<rect x="357.4" y="517.7" width="1.8" height="1.8" fill="#aa0f0f"/>
<line x1="339.8" y1="457.3" x2="376.8" y2="457.3" stroke="#111" stroke-width="1.4"/>
<line x1="358.3" y1="457.3" x2="358.3" y2="469.6" stroke="#aa0f0f" stroke-width="1.4"/>
<path d="M414.95 438.98L416.65 442.04L413.25 442.04Z" fill="#0b8a0b"/>
<path d="M409.75 439.93L411.45 442.99L408.05 442.99Z" fill="#0b8a0b"/>
<path d="M405.87 438.8L407.57 441.86L404.17 441.86Z" fill="#0b8a0b"/>
<path d="M424.28 438.38L425.98 441.44L422.58 441.44Z" fill="#0b8a0b"/>
<path d="M419.45 439.35L421.15 442.41L417.75 442.41Z" fill="#0b8a0b"/>
<path d="M402.74 440.28L404.44 443.34L401.04 443.34Z" fill="#0b8a0b"/>
<path d="M395.9 443.8Q413.7 447.4 431.5 443.8" fill="none" stroke="#0b8a0b" stroke-width="3.3" stroke-linecap="round"/>
<path d="M395.7 448Q413.7 451.6 431.7 448" fill="none" stroke="#0b8a0b" stroke-width="3" stroke-linecap="round"/>
<path d="M396.2 452.6Q413.7 454.6 431.2 452.6" fill="none" stroke="#0b8a0b" stroke-width="3.4" stroke-linecap="round"/>
<path d="M400.5 458.18L402.3 461.42L398.7 461.42Z" fill="#0b8a0b"/>
<path d="M404.9 459.25L406.7 462.49L403.1 462.49Z" fill="#0b8a0b"/>
<path d="M409.3 459.89L411.1 463.13L407.5 463.13Z" fill="#0b8a0b"/>
<path d="M413.7 460.1L415.5 463.34L411.9 463.34Z" fill="#0b8a0b"/>
<path d="M418.1 459.89L419.9 463.13L416.3 463.13Z" fill="#0b8a0b"/>
<path d="M422.5 459.25L424.3 462.49L420.7 462.49Z" fill="#0b8a0b"/>
<path d="M426.9 458.18L428.7 461.42L425.1 461.42Z" fill="#0b8a0b"/>
<path d="M400.5 463.08L402.3 466.32L398.7 466.32Z" fill="#0b8a0b"/>
<path d="M404.9 464.09L406.7 467.33L403.1 467.33Z" fill="#0b8a0b"/>
<path d="M413.7 464.9L415.5 468.14L411.9 468.14Z" fill="#0b8a0b"/>
<path d="M418.1 464.7L419.9 467.94L416.3 467.94Z" fill="#0b8a0b"/>
<path d="M422.5 464.09L424.3 467.33L420.7 467.33Z" fill="#0b8a0b"/>
<path d="M426.9 463.08L428.7 466.32L425.1 466.32Z" fill="#0b8a0b"/>
<path d="M398.1 468.73L399.9 471.97L396.3 471.97Z" fill="#0b8a0b"/>
<path d="M400.7 469.33L402.5 472.57L398.9 472.57Z" fill="#0b8a0b"/>
<path d="M403.3 469.83L405.1 473.07L401.5 473.07Z" fill="#0b8a0b"/>
<path d="M405.9 470.21L407.7 473.45L404.1 473.45Z" fill="#0b8a0b"/>
<path d="M408.5 470.48L410.3 473.72L406.7 473.72Z" fill="#0b8a0b"/>
<path d="M411.1 470.65L412.9 473.89L409.3 473.89Z" fill="#0b8a0b"/>
<path d="M413.7 470.7L415.5 473.94L411.9 473.94Z" fill="#0b8a0b"/>
<path d="M416.3 470.65L418.1 473.89L414.5 473.89Z" fill="#0b8a0b"/>
<path d="M418.9 470.48L420.7 473.72L417.1 473.72Z" fill="#0b8a0b"/>
<path d="M421.5 470.21L423.3 473.45L419.7 473.45Z" fill="#0b8a0b"/>
<path d="M424.1 469.83L425.9 473.07L422.3 473.07Z" fill="#0b8a0b"/>
<path d="M426.7 469.33L428.5 472.57L424.9 472.57Z" fill="#0b8a0b"/>
<path d="M429.3 468.73L431.1 471.97L427.5 471.97Z" fill="#0b8a0b"/>
<path d="M399.3 474.65L401.1 477.89L397.5 477.89Z" fill="#0b8a0b"/>
<path d="M401.7 475.67L403.5 478.91L399.9 478.91Z" fill="#0b8a0b"/>
<path d="M404.1 476.51L405.9 479.75L402.3 479.75Z" fill="#0b8a0b"/>
<path d="M406.5 477.16L408.3 480.4L404.7 480.4Z" fill="#0b8a0b"/>
<path d="M408.9 477.63L410.7 480.87L407.1 480.87Z" fill="#0b8a0b"/>
<path d="M411.3 477.91L413.1 481.15L409.5 481.15Z" fill="#0b8a0b"/>
<path d="M413.7 478L415.5 481.24L411.9 481.24Z" fill="#0b8a0b"/>
<path d="M416.1 477.91L417.9 481.15L414.3 481.15Z" fill="#0b8a0b"/>
<path d="M418.5 477.63L420.3 480.87L416.7 480.87Z" fill="#0b8a0b"/>
<path d="M420.9 477.16L422.7 480.4L419.1 480.4Z" fill="#0b8a0b"/>
<path d="M423.3 476.51L425.1 479.75L421.5 479.75Z" fill="#0b8a0b"/>
<path d="M425.7 475.67L427.5 478.91L423.9 478.91Z" fill="#0b8a0b"/>
<path d="M428.1 474.65L429.9 477.89L426.3 477.89Z" fill="#0b8a0b"/>
<path d="M400.5 480.28L402.3 483.52L398.7 483.52Z" fill="#0b8a0b"/>
<path d="M404.9 481.85L406.7 485.09L403.1 485.09Z" fill="#0b8a0b"/>
<path d="M409.3 482.79L411.1 486.03L407.5 486.03Z" fill="#0b8a0b"/>
<path d="M413.7 483.1L415.5 486.34L411.9 486.34Z" fill="#0b8a0b"/>
<path d="M418.1 482.79L419.9 486.03L416.3 486.03Z" fill="#0b8a0b"/>
<path d="M422.5 481.85L424.3 485.09L420.7 485.09Z" fill="#0b8a0b"/>
<path d="M426.9 480.28L428.7 483.52L425.1 483.52Z" fill="#0b8a0b"/>
<line x1="406.7" y1="466.3" x2="420.7" y2="466.3" stroke="#0b8a0b" stroke-width="1.4"/>
<path d="M413.7 517.6L414.7 519.4L412.7 519.4Z" fill="#0b8a0b"/>
<line x1="395.2" y1="455.4" x2="432.2" y2="455.4" stroke="#111" stroke-width="1.4"/>
<line x1="413.7" y1="455.4" x2="413.7" y2="466.3" stroke="#0b8a0b" stroke-width="1.4"/>
<line x1="509.5" y1="407" x2="509.5" y2="518.35" stroke="#000" stroke-width="1.5"/>
<line x1="506.5" y1="517.6" x2="509.5" y2="517.6" stroke="#000" stroke-width="1.35"/>
<text x="505.1" y="520.55" font-size="8.2" font-weight="bold" text-anchor="end" fill="#000">0</text>
<line x1="506.5" y1="495.58" x2="509.5" y2="495.58" stroke="#000" stroke-width="1.35"/>
<text x="505.1" y="498.53" font-size="8.2" font-weight="bold" text-anchor="end" fill="#000">5</text>
<line x1="506.5" y1="473.56" x2="509.5" y2="473.56" stroke="#000" stroke-width="1.35"/>
<text x="505.1" y="476.51" font-size="8.2" font-weight="bold" text-anchor="end" fill="#000">10</text>
<line x1="506.5" y1="451.54" x2="509.5" y2="451.54" stroke="#000" stroke-width="1.35"/>
<text x="505.1" y="454.49" font-size="8.2" font-weight="bold" text-anchor="end" fill="#000">15</text>
<line x1="506.5" y1="429.52" x2="509.5" y2="429.52" stroke="#000" stroke-width="1.35"/>
<text x="505.1" y="432.47" font-size="8.2" font-weight="bold" text-anchor="end" fill="#000">20</text>
<line x1="506.5" y1="407.5" x2="509.5" y2="407.5" stroke="#000" stroke-width="1.35"/>
<text x="505.1" y="410.45" font-size="8.2" font-weight="bold" text-anchor="end" fill="#000">25</text>
<line x1="509.5" y1="517.6" x2="677.8" y2="517.6" stroke="#000" stroke-width="1.5"/>
<text x="478.9" y="462.3" font-size="10.74" font-weight="bold" text-anchor="middle" fill="#000" transform="rotate(-90 478.9 462.3)">TRPM2-AS expressiion</text>
<text x="491.6" y="460.8" font-size="10.4" font-weight="bold" text-anchor="middle" fill="#000" transform="rotate(-90 491.6 460.8)">log2(FPKMUQ+1)</text>
<text x="593" y="408.6" font-size="10.8" font-weight="bold" text-anchor="middle" fill="#000">TCGA cohort (TNM stage)</text>
<path d="M525.7 422.3V417H661.6V421.6" fill="none" stroke="#000" stroke-width="1.3"/>
<line x1="559.6" y1="417" x2="559.6" y2="421.6" stroke="#000" stroke-width="1.3"/>
<line x1="593.2" y1="417" x2="593.2" y2="421.6" stroke="#000" stroke-width="1.3"/>
<line x1="627" y1="417" x2="627" y2="421.6" stroke="#000" stroke-width="1.3"/>
<polygon points="557.9,422.65 558.52,424.14 560.13,424.27 558.91,425.33 559.28,426.9 557.9,426.06 556.52,426.9 556.89,425.33 555.67,424.27 557.28,424.14" fill="#1a1a1a"/>
<polygon points="562.9,422.65 563.52,424.14 565.13,424.27 563.91,425.33 564.28,426.9 562.9,426.06 561.52,426.9 561.89,425.33 560.67,424.27 562.28,424.14" fill="#1a1a1a"/>
<polygon points="591.5,422.65 592.12,424.14 593.73,424.27 592.51,425.33 592.88,426.9 591.5,426.06 590.12,426.9 590.49,425.33 589.27,424.27 590.88,424.14" fill="#1a1a1a"/>
<polygon points="596.5,422.65 597.12,424.14 598.73,424.27 597.51,425.33 597.88,426.9 596.5,426.06 595.12,426.9 595.49,425.33 594.27,424.27 595.88,424.14" fill="#1a1a1a"/>
<polygon points="625.3,422.65 625.92,424.14 627.53,424.27 626.31,425.33 626.68,426.9 625.3,426.06 623.92,426.9 624.29,425.33 623.07,424.27 624.68,424.14" fill="#1a1a1a"/>
<polygon points="630.3,422.65 630.92,424.14 632.53,424.27 631.31,425.33 631.68,426.9 630.3,426.06 628.92,426.9 629.29,425.33 628.07,424.27 629.68,424.14" fill="#1a1a1a"/>
<polygon points="659.9,422.65 660.52,424.14 662.13,424.27 660.91,425.33 661.28,426.9 659.9,426.06 658.52,426.9 658.89,425.33 657.67,424.27 659.28,424.14" fill="#1a1a1a"/>
<polygon points="664.9,422.65 665.52,424.14 667.13,424.27 665.91,425.33 666.28,426.9 664.9,426.06 663.52,426.9 663.89,425.33 662.67,424.27 664.28,424.14" fill="#1a1a1a"/>
<line x1="526.5" y1="517.6" x2="526.5" y2="520.6" stroke="#000" stroke-width="1.3"/>
<text x="530.1" y="532.6" font-size="10.2" font-weight="bold" text-anchor="middle" fill="#000">normal</text>
<line x1="559.6" y1="517.6" x2="559.6" y2="520.6" stroke="#000" stroke-width="1.3"/>
<text x="559.6" y="532.6" font-size="10.2" font-weight="bold" text-anchor="middle" fill="#000">I</text>
<line x1="593.2" y1="517.6" x2="593.2" y2="520.6" stroke="#000" stroke-width="1.3"/>
<text x="593.2" y="532.6" font-size="10.2" font-weight="bold" text-anchor="middle" fill="#000">II</text>
<line x1="627" y1="517.6" x2="627" y2="520.6" stroke="#000" stroke-width="1.3"/>
<text x="627.6" y="532.6" font-size="10.2" font-weight="bold" text-anchor="middle" fill="#000">III</text>
<line x1="661.6" y1="517.6" x2="661.6" y2="520.6" stroke="#000" stroke-width="1.3"/>
<text x="662.1" y="532.6" font-size="10.2" font-weight="bold" text-anchor="middle" fill="#000">IV</text>
<circle cx="522.61" cy="451.64" r="1.2" fill="#111"/>
<circle cx="524.55" cy="454.08" r="1.2" fill="#111"/>
<circle cx="526.5" cy="454.08" r="1.2" fill="#111"/>
<circle cx="529.42" cy="453.88" r="1.2" fill="#111"/>
<circle cx="521.14" cy="461.87" r="1.2" fill="#111"/>
<circle cx="527.47" cy="461.87" r="1.2" fill="#111"/>
<circle cx="530.88" cy="461.67" r="1.2" fill="#111"/>
<circle cx="524.55" cy="464.3" r="1.2" fill="#111"/>
<circle cx="526.5" cy="464.79" r="1.2" fill="#111"/>
<circle cx="521.14" cy="468.2" r="1.2" fill="#111"/>
<circle cx="523.09" cy="470.14" r="1.2" fill="#111"/>
<circle cx="526.5" cy="468.2" r="1.2" fill="#111"/>
<circle cx="529.42" cy="467.22" r="1.2" fill="#111"/>
<circle cx="526.5" cy="472.09" r="1.2" fill="#111"/>
<circle cx="529.42" cy="471.41" r="1.2" fill="#111"/>
<circle cx="517.74" cy="472.58" r="1.2" fill="#111"/>
<circle cx="521.14" cy="474.53" r="1.2" fill="#111"/>
<circle cx="524.55" cy="475.01" r="1.2" fill="#111"/>
<circle cx="526.99" cy="475.01" r="1.2" fill="#111"/>
<circle cx="531.37" cy="474.53" r="1.2" fill="#111"/>
<circle cx="534.29" cy="473.55" r="1.2" fill="#111"/>
<circle cx="517.74" cy="478.91" r="1.2" fill="#111"/>
<circle cx="521.14" cy="479.88" r="1.2" fill="#111"/>
<circle cx="524.55" cy="480.86" r="1.2" fill="#111"/>
<circle cx="527.47" cy="479.88" r="1.2" fill="#111"/>
<circle cx="530.88" cy="479.39" r="1.2" fill="#111"/>
<circle cx="534.29" cy="478.91" r="1.2" fill="#111"/>
<circle cx="526.5" cy="485.72" r="1.2" fill="#111"/>
<circle cx="522.3" cy="517.6" r="1" fill="#111"/>
<circle cx="525.1" cy="517.6" r="1" fill="#111"/>
<circle cx="527.9" cy="517.6" r="1" fill="#111"/>
<circle cx="530.7" cy="517.6" r="1" fill="#111"/>
<line x1="526.5" y1="456.1" x2="526.5" y2="493.8" stroke="#111" stroke-width="1.4"/>
<line x1="521.1" y1="456.1" x2="531.9" y2="456.1" stroke="#111" stroke-width="1.4"/>
<line x1="521.1" y1="493.8" x2="531.9" y2="493.8" stroke="#111" stroke-width="1.4"/>
<line x1="515.5" y1="475.5" x2="537.5" y2="475.5" stroke="#111" stroke-width="1.4"/>
<rect x="554.13" y="440.38" width="2.2" height="2.2" fill="#aa0f0f"/>
<rect x="558.8" y="438.98" width="2.2" height="2.2" fill="#aa0f0f"/>
<rect x="556.93" y="442.25" width="2.2" height="2.2" fill="#aa0f0f"/>
<rect x="561.14" y="442.25" width="2.2" height="2.2" fill="#aa0f0f"/>
<rect x="563.48" y="441.79" width="2.2" height="2.2" fill="#aa0f0f"/>
<path d="M548.8 444.3Q559.6 449.9 570.4 444.3" fill="none" stroke="#aa0f0f" stroke-width="1.9" stroke-linecap="round"/>
<path d="M548.8 448.5Q559.6 452.3 570.4 448.5" fill="none" stroke="#aa0f0f" stroke-width="1.9" stroke-linecap="round"/>
<rect x="549.45" y="450.67" width="2.2" height="2.2" fill="#aa0f0f"/>
<rect x="552.72" y="451.14" width="2.2" height="2.2" fill="#aa0f0f"/>
<rect x="556" y="452.08" width="2.2" height="2.2" fill="#aa0f0f"/>
<rect x="561.61" y="452.08" width="2.2" height="2.2" fill="#aa0f0f"/>
<rect x="565.35" y="451.14" width="2.2" height="2.2" fill="#aa0f0f"/>
<rect x="568.62" y="450.67" width="2.2" height="2.2" fill="#aa0f0f"/>
<rect x="548.51" y="443.19" width="2.2" height="2.2" fill="#aa0f0f"/>
<rect x="570.03" y="443.19" width="2.2" height="2.2" fill="#aa0f0f"/>
<rect x="548.51" y="447.4" width="2.2" height="2.2" fill="#aa0f0f"/>
<rect x="570.03" y="446.93" width="2.2" height="2.2" fill="#aa0f0f"/>
<rect x="554.08" y="458.11" width="2.3" height="2.3" fill="#aa0f0f"/>
<rect x="557.82" y="459.51" width="2.3" height="2.3" fill="#aa0f0f"/>
<rect x="560.62" y="459.98" width="2.3" height="2.3" fill="#aa0f0f"/>
<rect x="563.9" y="459.04" width="2.3" height="2.3" fill="#aa0f0f"/>
<rect x="558.75" y="462.78" width="2.3" height="2.3" fill="#aa0f0f"/>
<rect x="552.2" y="467.46" width="2.3" height="2.3" fill="#aa0f0f"/>
<rect x="558.75" y="466.06" width="2.3" height="2.3" fill="#aa0f0f"/>
<rect x="565.3" y="466.99" width="2.3" height="2.3" fill="#aa0f0f"/>
<rect x="555.48" y="469.8" width="2.3" height="2.3" fill="#aa0f0f"/>
<rect x="558.75" y="469.8" width="2.3" height="2.3" fill="#aa0f0f"/>
<rect x="562.49" y="469.8" width="2.3" height="2.3" fill="#aa0f0f"/>
<rect x="556.88" y="474.95" width="2.3" height="2.3" fill="#aa0f0f"/>
<rect x="560.62" y="473.07" width="2.3" height="2.3" fill="#aa0f0f"/>
<rect x="562.49" y="476.35" width="2.3" height="2.3" fill="#aa0f0f"/>
<rect x="555.48" y="478.69" width="2.3" height="2.3" fill="#aa0f0f"/>
<rect x="559.22" y="478.69" width="2.3" height="2.3" fill="#aa0f0f"/>
<rect x="554.08" y="468.4" width="2.3" height="2.3" fill="#aa0f0f"/>
<rect x="563.43" y="468.4" width="2.3" height="2.3" fill="#aa0f0f"/>
<rect x="558.7" y="516.7" width="1.8" height="1.8" fill="#aa0f0f"/>
<line x1="559.6" y1="445" x2="559.6" y2="469.2" stroke="#aa0f0f" stroke-width="1.4"/>
<line x1="552.6" y1="445" x2="566.6" y2="445" stroke="#aa0f0f" stroke-width="1.4"/>
<line x1="552.6" y1="469.2" x2="566.6" y2="469.2" stroke="#aa0f0f" stroke-width="1.4"/>
<line x1="548.6" y1="455.7" x2="570.6" y2="455.7" stroke="#111" stroke-width="1.4"/>
<path d="M590.13 436.93L591.58 439.54L588.68 439.54Z" fill="#0b8a0b"/>
<path d="M593.54 438.39L594.99 441L592.09 441Z" fill="#0b8a0b"/>
<path d="M596.94 435.47L598.39 438.08L595.49 438.08Z" fill="#0b8a0b"/>
<path d="M583.81 439.36L585.26 441.97L582.36 441.97Z" fill="#0b8a0b"/>
<path d="M586.73 440.33L588.18 442.94L585.28 442.94Z" fill="#0b8a0b"/>
<path d="M589.65 440.82L591.1 443.43L588.2 443.43Z" fill="#0b8a0b"/>
<path d="M600.35 439.36L601.8 441.97L598.9 441.97Z" fill="#0b8a0b"/>
<path d="M603.26 439.36L604.71 441.97L601.81 441.97Z" fill="#0b8a0b"/>
<path d="M597.91 440.33L599.36 442.94L596.46 442.94Z" fill="#0b8a0b"/>
<path d="M583.2 444.4L593.2 446.4L603.2 444.4" fill="none" stroke="#0b8a0b" stroke-width="2" stroke-linecap="round" stroke-linejoin="round"/>
<path d="M583.2 447.8L593.2 449.8L603.2 447.8" fill="none" stroke="#0b8a0b" stroke-width="2" stroke-linecap="round" stroke-linejoin="round"/>
<path d="M583.2 451.2L593.2 453L603.2 451.2" fill="none" stroke="#0b8a0b" stroke-width="2" stroke-linecap="round" stroke-linejoin="round"/>
<path d="M590.13 455.9L591.58 458.51L588.68 458.51Z" fill="#0b8a0b"/>
<path d="M595.48 455.41L596.93 458.02L594.03 458.02Z" fill="#0b8a0b"/>
<path d="M592.08 458.81L593.53 461.42L590.63 461.42Z" fill="#0b8a0b"/>
<path d="M595 459.3L596.45 461.91L593.55 461.91Z" fill="#0b8a0b"/>
<path d="M583.32 461.25L584.77 463.86L581.87 463.86Z" fill="#0b8a0b"/>
<path d="M586.73 461.73L588.18 464.34L585.28 464.34Z" fill="#0b8a0b"/>
<path d="M589.16 464.65L590.61 467.26L587.71 467.26Z" fill="#0b8a0b"/>
<path d="M598.89 461.73L600.34 464.34L597.44 464.34Z" fill="#0b8a0b"/>
<path d="M602.29 461.25L603.74 463.86L600.84 463.86Z" fill="#0b8a0b"/>
<path d="M591.59 467.08L593.04 469.69L590.14 469.69Z" fill="#0b8a0b"/>
<path d="M595 467.08L596.45 469.69L593.55 469.69Z" fill="#0b8a0b"/>
<path d="M598.89 466.6L600.34 469.21L597.44 469.21Z" fill="#0b8a0b"/>
<path d="M583.81 469.03L585.26 471.64L582.36 471.64Z" fill="#0b8a0b"/>
<path d="M586.73 470.49L588.18 473.1L585.28 473.1Z" fill="#0b8a0b"/>
<path d="M589.16 470.97L590.61 473.58L587.71 473.58Z" fill="#0b8a0b"/>
<path d="M592.08 471.46L593.53 474.07L590.63 474.07Z" fill="#0b8a0b"/>
<path d="M595 471.46L596.45 474.07L593.55 474.07Z" fill="#0b8a0b"/>
<path d="M597.91 470.97L599.36 473.58L596.46 473.58Z" fill="#0b8a0b"/>
<path d="M600.83 469.51L602.28 472.12L599.38 472.12Z" fill="#0b8a0b"/>
<path d="M603.26 468.54L604.71 471.15L601.81 471.15Z" fill="#0b8a0b"/>
<path d="M583.81 472.43L585.26 475.04L582.36 475.04Z" fill="#0b8a0b"/>
<path d="M587.21 473.41L588.66 476.02L585.76 476.02Z" fill="#0b8a0b"/>
<path d="M590.62 474.38L592.07 476.99L589.17 476.99Z" fill="#0b8a0b"/>
<path d="M594.02 475.84L595.47 478.45L592.57 478.45Z" fill="#0b8a0b"/>
<path d="M597.43 474.38L598.88 476.99L595.98 476.99Z" fill="#0b8a0b"/>
<path d="M600.35 472.43L601.8 475.04L598.9 475.04Z" fill="#0b8a0b"/>
<path d="M603.26 472.43L604.71 475.04L601.81 475.04Z" fill="#0b8a0b"/>
<path d="M590.13 477.3L591.58 479.91L588.68 479.91Z" fill="#0b8a0b"/>
<path d="M593.54 480.22L594.99 482.83L592.09 482.83Z" fill="#0b8a0b"/>
<path d="M596.94 478.76L598.39 481.37L595.49 481.37Z" fill="#0b8a0b"/>
<line x1="593.2" y1="444.5" x2="593.2" y2="464.6" stroke="#0b8a0b" stroke-width="1.4"/>
<line x1="586.9" y1="444.5" x2="599.5" y2="444.5" stroke="#0b8a0b" stroke-width="1.4"/>
<line x1="586.9" y1="464.6" x2="599.5" y2="464.6" stroke="#0b8a0b" stroke-width="1.4"/>
<line x1="582.2" y1="454.1" x2="604.2" y2="454.1" stroke="#111" stroke-width="1.4"/>
<path d="M620.24 440.75L621.64 438.23L618.84 438.23Z" fill="#161696"/>
<path d="M625.59 438.8L626.99 436.28L624.19 436.28Z" fill="#161696"/>
<path d="M629 439.29L630.4 436.77L627.6 436.77Z" fill="#161696"/>
<path d="M623.65 443.18L625.05 440.66L622.25 440.66Z" fill="#161696"/>
<path d="M627.05 443.18L628.45 440.66L625.65 440.66Z" fill="#161696"/>
<path d="M630.46 443.18L631.86 440.66L629.06 440.66Z" fill="#161696"/>
<path d="M634.35 442.7L635.75 440.18L632.95 440.18Z" fill="#161696"/>
<path d="M617 443.4L627 444.9L637 443.4" fill="none" stroke="#161696" stroke-width="2.2" stroke-linecap="round" stroke-linejoin="round"/>
<path d="M617 446.7L627 448.2L637 446.7" fill="none" stroke="#161696" stroke-width="2.2" stroke-linecap="round" stroke-linejoin="round"/>
<path d="M617 449.7L627 451.2L637 449.7" fill="none" stroke="#161696" stroke-width="2.2" stroke-linecap="round" stroke-linejoin="round"/>
<path d="M617 452.4L627 453.9L637 452.4" fill="none" stroke="#161696" stroke-width="2.2" stroke-linecap="round" stroke-linejoin="round"/>
<path d="M617.32 458.26L618.72 455.74L615.92 455.74Z" fill="#161696"/>
<path d="M620.73 459.23L622.13 456.71L619.33 456.71Z" fill="#161696"/>
<path d="M623.65 460.69L625.05 458.17L622.25 458.17Z" fill="#161696"/>
<path d="M630.46 459.72L631.86 457.2L629.06 457.2Z" fill="#161696"/>
<path d="M633.86 458.75L635.26 456.23L632.46 456.23Z" fill="#161696"/>
<path d="M636.78 457.77L638.18 455.25L635.38 455.25Z" fill="#161696"/>
<path d="M623.65 462.64L625.05 460.12L622.25 460.12Z" fill="#161696"/>
<path d="M627.05 463.61L628.45 461.09L625.65 461.09Z" fill="#161696"/>
<path d="M630.94 464.1L632.34 461.58L629.54 461.58Z" fill="#161696"/>
<path d="M618.78 465.56L620.18 463.04L617.38 463.04Z" fill="#161696"/>
<path d="M622.19 467.01L623.59 464.49L620.79 464.49Z" fill="#161696"/>
<path d="M632.89 467.01L634.29 464.49L631.49 464.49Z" fill="#161696"/>
<path d="M635.81 466.53L637.21 464.01L634.41 464.01Z" fill="#161696"/>
<path d="M617.32 469.45L618.72 466.93L615.92 466.93Z" fill="#161696"/>
<path d="M620.24 469.93L621.64 467.41L618.84 467.41Z" fill="#161696"/>
<path d="M623.16 470.42L624.56 467.9L621.76 467.9Z" fill="#161696"/>
<path d="M625.59 471.39L626.99 468.87L624.19 468.87Z" fill="#161696"/>
<path d="M628.51 471.88L629.91 469.36L627.11 469.36Z" fill="#161696"/>
<path d="M631.43 470.42L632.83 467.9L630.03 467.9Z" fill="#161696"/>
<path d="M634.35 469.93L635.75 467.41L632.95 467.41Z" fill="#161696"/>
<path d="M637.26 468.96L638.66 466.44L635.86 466.44Z" fill="#161696"/>
<path d="M625.59 474.8L626.99 472.28L624.19 472.28Z" fill="#161696"/>
<path d="M629 475.77L630.4 473.25L627.6 473.25Z" fill="#161696"/>
<path d="M617.32 477.23L618.72 474.71L615.92 474.71Z" fill="#161696"/>
<path d="M620.73 478.2L622.13 475.68L619.33 475.68Z" fill="#161696"/>
<path d="M624.13 478.69L625.53 476.17L622.73 476.17Z" fill="#161696"/>
<path d="M627.05 480.15L628.45 477.63L625.65 477.63Z" fill="#161696"/>
<path d="M630.46 479.17L631.86 476.65L629.06 476.65Z" fill="#161696"/>
<path d="M633.86 478.2L635.26 475.68L632.46 475.68Z" fill="#161696"/>
<path d="M636.78 477.23L638.18 474.71L635.38 474.71Z" fill="#161696"/>
<path d="M620.24 483.07L621.64 480.55L618.84 480.55Z" fill="#161696"/>
<path d="M623.65 484.04L625.05 481.52L622.25 481.52Z" fill="#161696"/>
<path d="M627.05 484.52L628.45 482L625.65 482Z" fill="#161696"/>
<path d="M630.46 484.04L631.86 481.52L629.06 481.52Z" fill="#161696"/>
<path d="M633.86 482.58L635.26 480.06L632.46 480.06Z" fill="#161696"/>
<path d="M627 518.6L628 516.8L626 516.8Z" fill="#161696"/>
<line x1="627" y1="445" x2="627" y2="466.1" stroke="#161696" stroke-width="1.4"/>
<line x1="621.4" y1="445" x2="632.6" y2="445" stroke="#161696" stroke-width="1.4"/>
<line x1="621.4" y1="466.1" x2="632.6" y2="466.1" stroke="#161696" stroke-width="1.4"/>
<line x1="616" y1="454.4" x2="638" y2="454.4" stroke="#111" stroke-width="1.4"/>
<path d="M650.04 442.47H652.04M651.04 441.47V443.47" stroke="#a0185a" stroke-width="0.8"/>
<path d="M669.45 443.33H671.45M670.45 442.33V444.33" stroke="#a0185a" stroke-width="0.8"/>
<path d="M653.06 443.77H655.06M654.06 442.77V444.77" stroke="#a0185a" stroke-width="0.8"/>
<path d="M666.86 444.2H668.86M667.86 443.2V445.2" stroke="#a0185a" stroke-width="0.8"/>
<path d="M649.61 449.37H651.61M650.61 448.37V450.37" stroke="#a0185a" stroke-width="0.8"/>
<path d="M651.77 449.81H653.77M652.77 448.81V450.81" stroke="#a0185a" stroke-width="0.8"/>
<path d="M653.92 449.81H655.92M654.92 448.81V450.81" stroke="#a0185a" stroke-width="0.8"/>
<path d="M656.08 449.37H658.08M657.08 448.37V450.37" stroke="#a0185a" stroke-width="0.8"/>
<path d="M658.24 450.24H660.24M659.24 449.24V451.24" stroke="#a0185a" stroke-width="0.8"/>
<path d="M661.26 449.81H663.26M662.26 448.81V450.81" stroke="#a0185a" stroke-width="0.8"/>
<path d="M663.41 449.37H665.41M664.41 448.37V450.37" stroke="#a0185a" stroke-width="0.8"/>
<path d="M665.57 448.94H667.57M666.57 447.94V449.94" stroke="#a0185a" stroke-width="0.8"/>
<path d="M667.73 449.81H669.73M668.73 448.81V450.81" stroke="#a0185a" stroke-width="0.8"/>
<path d="M669.88 447.65H671.88M670.88 446.65V448.65" stroke="#a0185a" stroke-width="0.8"/>
<path d="M669.45 450.24H671.45M670.45 449.24V451.24" stroke="#a0185a" stroke-width="0.8"/>
<path d="M653.49 447.22H655.49M654.49 446.22V448.22" stroke="#a0185a" stroke-width="0.8"/>
<path d="M665.14 447.22H667.14M666.14 446.22V448.22" stroke="#a0185a" stroke-width="0.8"/>
<path d="M652.63 454.55H654.63M653.63 453.55V455.55" stroke="#a0185a" stroke-width="0.8"/>
<path d="M656.51 455.84H658.51M657.51 454.84V456.84" stroke="#a0185a" stroke-width="0.8"/>
<path d="M663.41 454.55H665.41M664.41 453.55V455.55" stroke="#a0185a" stroke-width="0.8"/>
<path d="M666.43 454.55H668.43M667.43 453.55V455.55" stroke="#a0185a" stroke-width="0.8"/>
<path d="M659.96 467.06H661.96M660.96 466.06V468.06" stroke="#a0185a" stroke-width="0.8"/>
<path d="M656.51 471.38H658.51M657.51 470.38V472.38" stroke="#a0185a" stroke-width="0.8"/>
<path d="M659.96 471.38H661.96M660.96 470.38V472.38" stroke="#a0185a" stroke-width="0.8"/>
<path d="M663.41 469.65H665.41M664.41 468.65V470.65" stroke="#a0185a" stroke-width="0.8"/>
<path d="M658.24 475.69H660.24M659.24 474.69V476.69" stroke="#a0185a" stroke-width="0.8"/>
<path d="M661.69 475.26H663.69M662.69 474.26V476.26" stroke="#a0185a" stroke-width="0.8"/>
<path d="M650.9 448.51H652.9M651.9 447.51V449.51" stroke="#a0185a" stroke-width="0.8"/>
<path d="M655.22 448.51H657.22M656.22 447.51V449.51" stroke="#a0185a" stroke-width="0.8"/>
<path d="M662.55 448.51H664.55M663.55 447.51V449.51" stroke="#a0185a" stroke-width="0.8"/>
<path d="M668.16 448.08H670.16M669.16 447.08V449.08" stroke="#a0185a" stroke-width="0.8"/>
<path d="M651.6 449.6H671.6" stroke="#a0185a" stroke-width="1.8"/>
<line x1="661.6" y1="444.2" x2="661.6" y2="461.9" stroke="#a0185a" stroke-width="1.4"/>
<line x1="656" y1="444.2" x2="667.2" y2="444.2" stroke="#a0185a" stroke-width="1.4"/>
<line x1="656" y1="461.9" x2="667.2" y2="461.9" stroke="#a0185a" stroke-width="1.4"/>
<line x1="650.1" y1="453.7" x2="673.1" y2="453.7" stroke="#111" stroke-width="1.4"/>
</svg></body></html>
